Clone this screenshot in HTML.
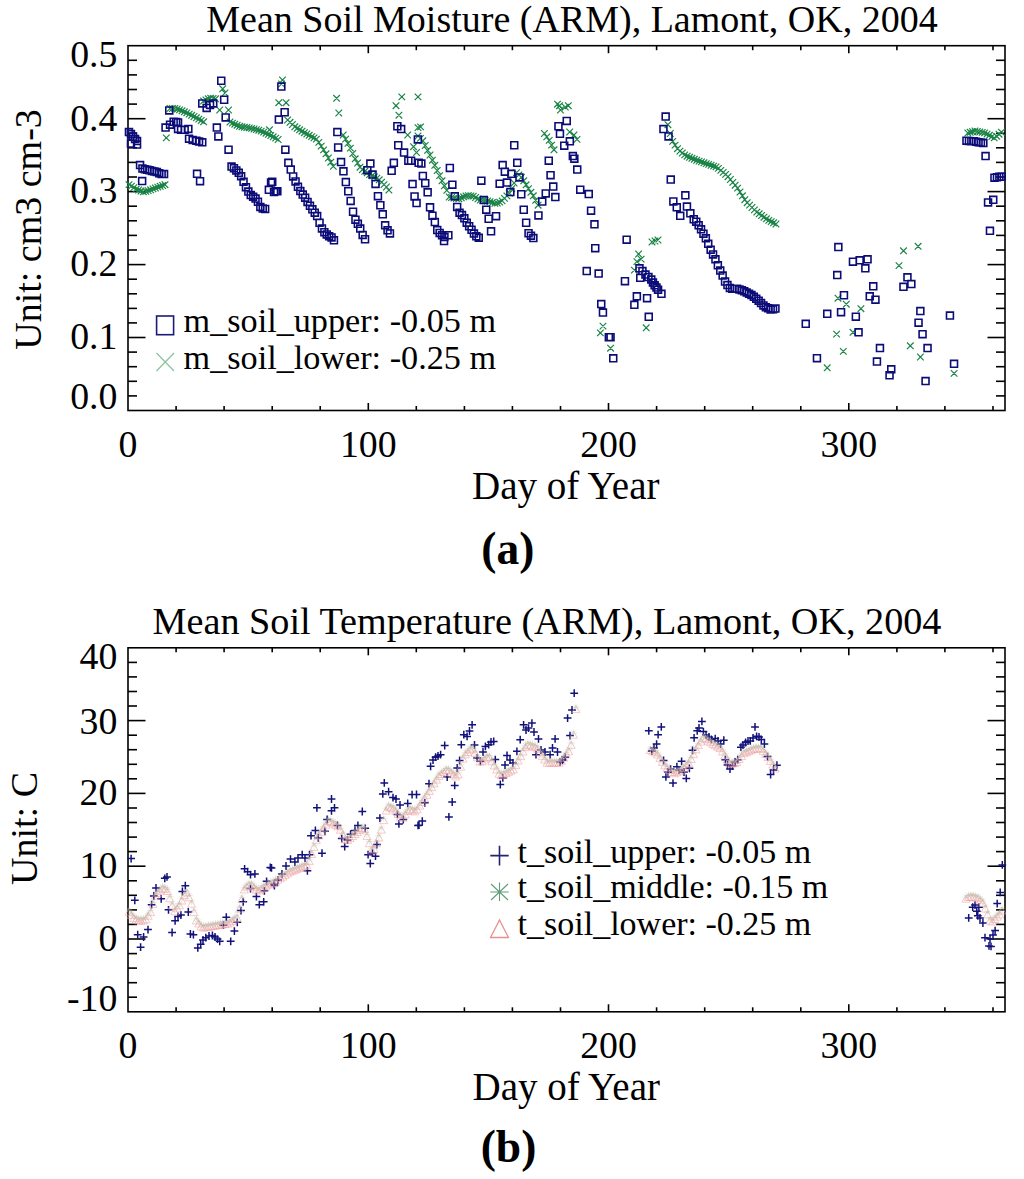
<!DOCTYPE html><html><head><meta charset="utf-8"><style>html,body{margin:0;padding:0;background:#fff}svg{display:block}text{font-family:"Liberation Serif",serif}</style></head><body><svg width="1024" height="1179" viewBox="0 0 1024 1179">
<rect width="1024" height="1179" fill="#fff"/>
<g stroke="#000" stroke-width="1.6" fill="none">
<rect x="128.0" y="45.7" width="877.0" height="364.8" fill="none" stroke="#000" stroke-width="1.6"/>
<line x1="176.1" y1="410.5" x2="176.1" y2="406.0" />
<line x1="176.1" y1="45.7" x2="176.1" y2="50.2" />
<line x1="224.1" y1="410.5" x2="224.1" y2="406.0" />
<line x1="224.1" y1="45.7" x2="224.1" y2="50.2" />
<line x1="272.2" y1="410.5" x2="272.2" y2="406.0" />
<line x1="272.2" y1="45.7" x2="272.2" y2="50.2" />
<line x1="320.2" y1="410.5" x2="320.2" y2="406.0" />
<line x1="320.2" y1="45.7" x2="320.2" y2="50.2" />
<line x1="368.3" y1="410.5" x2="368.3" y2="403.0" />
<line x1="368.3" y1="45.7" x2="368.3" y2="53.2" />
<line x1="416.3" y1="410.5" x2="416.3" y2="406.0" />
<line x1="416.3" y1="45.7" x2="416.3" y2="50.2" />
<line x1="464.4" y1="410.5" x2="464.4" y2="406.0" />
<line x1="464.4" y1="45.7" x2="464.4" y2="50.2" />
<line x1="512.4" y1="410.5" x2="512.4" y2="406.0" />
<line x1="512.4" y1="45.7" x2="512.4" y2="50.2" />
<line x1="560.5" y1="410.5" x2="560.5" y2="406.0" />
<line x1="560.5" y1="45.7" x2="560.5" y2="50.2" />
<line x1="608.5" y1="410.5" x2="608.5" y2="403.0" />
<line x1="608.5" y1="45.7" x2="608.5" y2="53.2" />
<line x1="656.6" y1="410.5" x2="656.6" y2="406.0" />
<line x1="656.6" y1="45.7" x2="656.6" y2="50.2" />
<line x1="704.7" y1="410.5" x2="704.7" y2="406.0" />
<line x1="704.7" y1="45.7" x2="704.7" y2="50.2" />
<line x1="752.7" y1="410.5" x2="752.7" y2="406.0" />
<line x1="752.7" y1="45.7" x2="752.7" y2="50.2" />
<line x1="800.8" y1="410.5" x2="800.8" y2="406.0" />
<line x1="800.8" y1="45.7" x2="800.8" y2="50.2" />
<line x1="848.8" y1="410.5" x2="848.8" y2="403.0" />
<line x1="848.8" y1="45.7" x2="848.8" y2="53.2" />
<line x1="896.9" y1="410.5" x2="896.9" y2="406.0" />
<line x1="896.9" y1="45.7" x2="896.9" y2="50.2" />
<line x1="944.9" y1="410.5" x2="944.9" y2="406.0" />
<line x1="944.9" y1="45.7" x2="944.9" y2="50.2" />
<line x1="993.0" y1="410.5" x2="993.0" y2="406.0" />
<line x1="993.0" y1="45.7" x2="993.0" y2="50.2" />
<line x1="128.0" y1="395.9" x2="137.0" y2="395.9" />
<line x1="1005.0" y1="395.9" x2="996.0" y2="395.9" />
<line x1="128.0" y1="381.3" x2="137.0" y2="381.3" />
<line x1="1005.0" y1="381.3" x2="996.0" y2="381.3" />
<line x1="128.0" y1="366.7" x2="137.0" y2="366.7" />
<line x1="1005.0" y1="366.7" x2="996.0" y2="366.7" />
<line x1="128.0" y1="352.1" x2="137.0" y2="352.1" />
<line x1="1005.0" y1="352.1" x2="996.0" y2="352.1" />
<line x1="128.0" y1="337.5" x2="145.5" y2="337.5" />
<line x1="1005.0" y1="337.5" x2="987.5" y2="337.5" />
<line x1="128.0" y1="322.9" x2="137.0" y2="322.9" />
<line x1="1005.0" y1="322.9" x2="996.0" y2="322.9" />
<line x1="128.0" y1="308.4" x2="137.0" y2="308.4" />
<line x1="1005.0" y1="308.4" x2="996.0" y2="308.4" />
<line x1="128.0" y1="293.8" x2="137.0" y2="293.8" />
<line x1="1005.0" y1="293.8" x2="996.0" y2="293.8" />
<line x1="128.0" y1="279.2" x2="137.0" y2="279.2" />
<line x1="1005.0" y1="279.2" x2="996.0" y2="279.2" />
<line x1="128.0" y1="264.6" x2="145.5" y2="264.6" />
<line x1="1005.0" y1="264.6" x2="987.5" y2="264.6" />
<line x1="128.0" y1="250.0" x2="137.0" y2="250.0" />
<line x1="1005.0" y1="250.0" x2="996.0" y2="250.0" />
<line x1="128.0" y1="235.4" x2="137.0" y2="235.4" />
<line x1="1005.0" y1="235.4" x2="996.0" y2="235.4" />
<line x1="128.0" y1="220.8" x2="137.0" y2="220.8" />
<line x1="1005.0" y1="220.8" x2="996.0" y2="220.8" />
<line x1="128.0" y1="206.2" x2="137.0" y2="206.2" />
<line x1="1005.0" y1="206.2" x2="996.0" y2="206.2" />
<line x1="128.0" y1="191.6" x2="145.5" y2="191.6" />
<line x1="1005.0" y1="191.6" x2="987.5" y2="191.6" />
<line x1="128.0" y1="177.0" x2="137.0" y2="177.0" />
<line x1="1005.0" y1="177.0" x2="996.0" y2="177.0" />
<line x1="128.0" y1="162.4" x2="137.0" y2="162.4" />
<line x1="1005.0" y1="162.4" x2="996.0" y2="162.4" />
<line x1="128.0" y1="147.8" x2="137.0" y2="147.8" />
<line x1="1005.0" y1="147.8" x2="996.0" y2="147.8" />
<line x1="128.0" y1="133.3" x2="137.0" y2="133.3" />
<line x1="1005.0" y1="133.3" x2="996.0" y2="133.3" />
<line x1="128.0" y1="118.7" x2="145.5" y2="118.7" />
<line x1="1005.0" y1="118.7" x2="987.5" y2="118.7" />
<line x1="128.0" y1="104.1" x2="137.0" y2="104.1" />
<line x1="1005.0" y1="104.1" x2="996.0" y2="104.1" />
<line x1="128.0" y1="89.5" x2="137.0" y2="89.5" />
<line x1="1005.0" y1="89.5" x2="996.0" y2="89.5" />
<line x1="128.0" y1="74.9" x2="137.0" y2="74.9" />
<line x1="1005.0" y1="74.9" x2="996.0" y2="74.9" />
<line x1="128.0" y1="60.3" x2="137.0" y2="60.3" />
<line x1="1005.0" y1="60.3" x2="996.0" y2="60.3" />
<rect x="128.0" y="647.8" width="877.0" height="364.0" fill="none" stroke="#000" stroke-width="1.6"/>
<line x1="176.1" y1="1011.8" x2="176.1" y2="1007.3" />
<line x1="176.1" y1="647.8" x2="176.1" y2="652.3" />
<line x1="224.1" y1="1011.8" x2="224.1" y2="1007.3" />
<line x1="224.1" y1="647.8" x2="224.1" y2="652.3" />
<line x1="272.2" y1="1011.8" x2="272.2" y2="1007.3" />
<line x1="272.2" y1="647.8" x2="272.2" y2="652.3" />
<line x1="320.2" y1="1011.8" x2="320.2" y2="1007.3" />
<line x1="320.2" y1="647.8" x2="320.2" y2="652.3" />
<line x1="368.3" y1="1011.8" x2="368.3" y2="1004.3" />
<line x1="368.3" y1="647.8" x2="368.3" y2="655.3" />
<line x1="416.3" y1="1011.8" x2="416.3" y2="1007.3" />
<line x1="416.3" y1="647.8" x2="416.3" y2="652.3" />
<line x1="464.4" y1="1011.8" x2="464.4" y2="1007.3" />
<line x1="464.4" y1="647.8" x2="464.4" y2="652.3" />
<line x1="512.4" y1="1011.8" x2="512.4" y2="1007.3" />
<line x1="512.4" y1="647.8" x2="512.4" y2="652.3" />
<line x1="560.5" y1="1011.8" x2="560.5" y2="1007.3" />
<line x1="560.5" y1="647.8" x2="560.5" y2="652.3" />
<line x1="608.5" y1="1011.8" x2="608.5" y2="1004.3" />
<line x1="608.5" y1="647.8" x2="608.5" y2="655.3" />
<line x1="656.6" y1="1011.8" x2="656.6" y2="1007.3" />
<line x1="656.6" y1="647.8" x2="656.6" y2="652.3" />
<line x1="704.7" y1="1011.8" x2="704.7" y2="1007.3" />
<line x1="704.7" y1="647.8" x2="704.7" y2="652.3" />
<line x1="752.7" y1="1011.8" x2="752.7" y2="1007.3" />
<line x1="752.7" y1="647.8" x2="752.7" y2="652.3" />
<line x1="800.8" y1="1011.8" x2="800.8" y2="1007.3" />
<line x1="800.8" y1="647.8" x2="800.8" y2="652.3" />
<line x1="848.8" y1="1011.8" x2="848.8" y2="1004.3" />
<line x1="848.8" y1="647.8" x2="848.8" y2="655.3" />
<line x1="896.9" y1="1011.8" x2="896.9" y2="1007.3" />
<line x1="896.9" y1="647.8" x2="896.9" y2="652.3" />
<line x1="944.9" y1="1011.8" x2="944.9" y2="1007.3" />
<line x1="944.9" y1="647.8" x2="944.9" y2="652.3" />
<line x1="993.0" y1="1011.8" x2="993.0" y2="1007.3" />
<line x1="993.0" y1="647.8" x2="993.0" y2="652.3" />
<line x1="128.0" y1="997.2" x2="137.0" y2="997.2" />
<line x1="1005.0" y1="997.2" x2="996.0" y2="997.2" />
<line x1="128.0" y1="982.7" x2="137.0" y2="982.7" />
<line x1="1005.0" y1="982.7" x2="996.0" y2="982.7" />
<line x1="128.0" y1="968.1" x2="137.0" y2="968.1" />
<line x1="1005.0" y1="968.1" x2="996.0" y2="968.1" />
<line x1="128.0" y1="953.6" x2="137.0" y2="953.6" />
<line x1="1005.0" y1="953.6" x2="996.0" y2="953.6" />
<line x1="128.0" y1="939.0" x2="145.5" y2="939.0" />
<line x1="1005.0" y1="939.0" x2="987.5" y2="939.0" />
<line x1="128.0" y1="924.4" x2="137.0" y2="924.4" />
<line x1="1005.0" y1="924.4" x2="996.0" y2="924.4" />
<line x1="128.0" y1="909.9" x2="137.0" y2="909.9" />
<line x1="1005.0" y1="909.9" x2="996.0" y2="909.9" />
<line x1="128.0" y1="895.3" x2="137.0" y2="895.3" />
<line x1="1005.0" y1="895.3" x2="996.0" y2="895.3" />
<line x1="128.0" y1="880.8" x2="137.0" y2="880.8" />
<line x1="1005.0" y1="880.8" x2="996.0" y2="880.8" />
<line x1="128.0" y1="866.2" x2="145.5" y2="866.2" />
<line x1="1005.0" y1="866.2" x2="987.5" y2="866.2" />
<line x1="128.0" y1="851.6" x2="137.0" y2="851.6" />
<line x1="1005.0" y1="851.6" x2="996.0" y2="851.6" />
<line x1="128.0" y1="837.1" x2="137.0" y2="837.1" />
<line x1="1005.0" y1="837.1" x2="996.0" y2="837.1" />
<line x1="128.0" y1="822.5" x2="137.0" y2="822.5" />
<line x1="1005.0" y1="822.5" x2="996.0" y2="822.5" />
<line x1="128.0" y1="808.0" x2="137.0" y2="808.0" />
<line x1="1005.0" y1="808.0" x2="996.0" y2="808.0" />
<line x1="128.0" y1="793.4" x2="145.5" y2="793.4" />
<line x1="1005.0" y1="793.4" x2="987.5" y2="793.4" />
<line x1="128.0" y1="778.8" x2="137.0" y2="778.8" />
<line x1="1005.0" y1="778.8" x2="996.0" y2="778.8" />
<line x1="128.0" y1="764.3" x2="137.0" y2="764.3" />
<line x1="1005.0" y1="764.3" x2="996.0" y2="764.3" />
<line x1="128.0" y1="749.7" x2="137.0" y2="749.7" />
<line x1="1005.0" y1="749.7" x2="996.0" y2="749.7" />
<line x1="128.0" y1="735.2" x2="137.0" y2="735.2" />
<line x1="1005.0" y1="735.2" x2="996.0" y2="735.2" />
<line x1="128.0" y1="720.6" x2="145.5" y2="720.6" />
<line x1="1005.0" y1="720.6" x2="987.5" y2="720.6" />
<line x1="128.0" y1="706.0" x2="137.0" y2="706.0" />
<line x1="1005.0" y1="706.0" x2="996.0" y2="706.0" />
<line x1="128.0" y1="691.5" x2="137.0" y2="691.5" />
<line x1="1005.0" y1="691.5" x2="996.0" y2="691.5" />
<line x1="128.0" y1="676.9" x2="137.0" y2="676.9" />
<line x1="1005.0" y1="676.9" x2="996.0" y2="676.9" />
<line x1="128.0" y1="662.4" x2="137.0" y2="662.4" />
<line x1="1005.0" y1="662.4" x2="996.0" y2="662.4" />
</g>
<g font-family="Liberation Serif" fill="#000">
<text x="572" y="31.8" font-size="38" text-anchor="middle">Mean Soil Moisture (ARM), Lamont, OK, 2004</text>
<text x="117.4" y="67.3" font-size="37.8" text-anchor="end">0.5</text>
<text x="117.4" y="131.4" font-size="37.8" text-anchor="end">0.4</text>
<text x="117.4" y="202.6" font-size="37.8" text-anchor="end">0.3</text>
<text x="117.4" y="275.8" font-size="37.8" text-anchor="end">0.2</text>
<text x="117.4" y="348.6" font-size="37.8" text-anchor="end">0.1</text>
<text x="117.4" y="408.8" font-size="37.8" text-anchor="end">0.0</text>
<text x="128.0" y="456.6" font-size="37.8" text-anchor="middle">0</text>
<text x="368.3" y="456.6" font-size="37.8" text-anchor="middle">100</text>
<text x="608.5" y="456.6" font-size="37.8" text-anchor="middle">200</text>
<text x="848.8" y="456.6" font-size="37.8" text-anchor="middle">300</text>
<text x="565.8" y="498.7" font-size="39" text-anchor="middle">Day of Year</text>
<text x="507.8" y="564" font-size="45.5" font-weight="bold" text-anchor="middle">(a)</text>
<text transform="translate(40.7,229.5) rotate(-90)" font-size="38" text-anchor="middle">Unit: cm3 cm-3</text>
<text x="183.6" y="332.2" font-size="34.2">m_soil_upper: -0.05 m</text>
<text x="183.6" y="368.8" font-size="34.2">m_soil_lower: -0.25 m</text>
<text x="547" y="633.75" font-size="38.2" text-anchor="middle">Mean Soil Temperature (ARM), Lamont, OK, 2004</text>
<text x="117.4" y="669.3" font-size="37.8" text-anchor="end">40</text>
<text x="117.4" y="733.5" font-size="37.8" text-anchor="end">30</text>
<text x="117.4" y="805.2" font-size="37.8" text-anchor="end">20</text>
<text x="117.4" y="877.8" font-size="37.8" text-anchor="end">10</text>
<text x="117.4" y="951.3" font-size="37.8" text-anchor="end">0</text>
<text x="117.4" y="1011.3" font-size="37.8" text-anchor="end">-10</text>
<text x="128.0" y="1057.8" font-size="37.8" text-anchor="middle">0</text>
<text x="368.3" y="1057.8" font-size="37.8" text-anchor="middle">100</text>
<text x="608.5" y="1057.8" font-size="37.8" text-anchor="middle">200</text>
<text x="848.8" y="1057.8" font-size="37.8" text-anchor="middle">300</text>
<text x="566.3" y="1100" font-size="39" text-anchor="middle">Day of Year</text>
<text x="508.5" y="1162" font-size="45.5" font-weight="bold" text-anchor="middle">(b)</text>
<text transform="translate(36.5,828.5) rotate(-90)" font-size="38" text-anchor="middle">Unit: C</text>
<text x="517.6" y="862.8" font-size="34">t_soil_upper: -0.05 m</text>
<text x="517.6" y="898.4" font-size="34">t_soil_middle: -0.15 m</text>
<text x="517.6" y="935.3" font-size="34">t_soil_lower: -0.25 m</text>
</g>
<rect x="156.6" y="316" width="17" height="18.7" fill="none" stroke="#1c1c78" stroke-width="1.6"/>
<path d="M156.5,353 L174,371 M174,353 L156.5,371" stroke="#8cc09c" stroke-width="1.2"/>
<path d="M490.3,855.6 H508.7 M499.5,845.7 V865.5" stroke="#23236e" stroke-width="1.6"/>
<path d="M490.3,892 H508.7 M499.5,882.6 V901.1 M491,884 L508,900 M508,884 L491,900" stroke="#5e9e78" stroke-width="1.1"/>
<path d="M499.5,920 L508.5,937.5 L490.5,937.5 Z" fill="none" stroke="#e89090" stroke-width="1.3"/>
<path d="M163.0,134.6l6.6,6.6M169.6,134.6l-6.6,6.6M219.4,85.5l6.6,6.6M226.0,85.5l-6.6,6.6M221.7,89.7l6.6,6.6M228.3,89.7l-6.6,6.6M216.4,106.7l6.6,6.6M223.0,106.7l-6.6,6.6M225.2,106.7l6.6,6.6M231.8,106.7l-6.6,6.6M266.2,126.5l6.6,6.6M272.8,126.5l-6.6,6.6M279.2,76.7l6.6,6.6M285.8,76.7l-6.6,6.6M278.2,80.7l6.6,6.6M284.8,80.7l-6.6,6.6M275.5,99.4l6.6,6.6M282.1,99.4l-6.6,6.6M282.8,99.4l6.6,6.6M289.4,99.4l-6.6,6.6M333.3,95.0l6.6,6.6M339.9,95.0l-6.6,6.6M335.5,109.7l6.6,6.6M342.1,109.7l-6.6,6.6M398.5,93.6l6.6,6.6M405.1,93.6l-6.6,6.6M392.7,102.4l6.6,6.6M399.3,102.4l-6.6,6.6M395.6,111.9l6.6,6.6M402.2,111.9l-6.6,6.6M404.4,131.7l6.6,6.6M411.0,131.7l-6.6,6.6M414.7,93.6l6.6,6.6M421.3,93.6l-6.6,6.6M414.7,124.3l6.6,6.6M421.3,124.3l-6.6,6.6M410.2,143.4l6.6,6.6M416.8,143.4l-6.6,6.6M413.2,149.2l6.6,6.6M419.8,149.2l-6.6,6.6M417.3,123.6l6.6,6.6M423.9,123.6l-6.6,6.6M554.2,100.9l6.6,6.6M560.8,100.9l-6.6,6.6M557.2,106.7l6.6,6.6M563.8,106.7l-6.6,6.6M556.2,102.4l6.6,6.6M562.8,102.4l-6.6,6.6M562.0,103.8l6.6,6.6M568.6,103.8l-6.6,6.6M565.0,102.4l6.6,6.6M571.6,102.4l-6.6,6.6M566.4,128.7l6.6,6.6M573.0,128.7l-6.6,6.6M570.7,131.7l6.6,6.6M577.3,131.7l-6.6,6.6M573.7,136.1l6.6,6.6M580.3,136.1l-6.6,6.6M599.7,322.8l6.6,6.6M606.3,322.8l-6.6,6.6M597.1,329.6l6.6,6.6M603.7,329.6l-6.6,6.6M607.3,344.9l6.6,6.6M613.9,344.9l-6.6,6.6M631.1,266.8l6.6,6.6M637.7,266.8l-6.6,6.6M633.6,258.3l6.6,6.6M640.2,258.3l-6.6,6.6M635.3,250.7l6.6,6.6M641.9,250.7l-6.6,6.6M637.8,255.8l6.6,6.6M644.4,255.8l-6.6,6.6M648.7,238.7l6.6,6.6M655.3,238.7l-6.6,6.6M651.7,237.7l6.6,6.6M658.3,237.7l-6.6,6.6M654.7,236.7l6.6,6.6M661.3,236.7l-6.6,6.6M642.9,324.5l6.6,6.6M649.5,324.5l-6.6,6.6M823.9,364.5l6.6,6.6M830.5,364.5l-6.6,6.6M833.3,330.8l6.6,6.6M839.9,330.8l-6.6,6.6M834.7,294.9l6.6,6.6M841.3,294.9l-6.6,6.6M840.0,348.1l6.6,6.6M846.6,348.1l-6.6,6.6M843.0,300.9l6.6,6.6M849.6,300.9l-6.6,6.6M849.7,329.0l6.6,6.6M856.3,329.0l-6.6,6.6M857.6,305.4l6.6,6.6M864.2,305.4l-6.6,6.6M895.7,262.3l6.6,6.6M902.3,262.3l-6.6,6.6M900.2,247.5l6.6,6.6M906.8,247.5l-6.6,6.6M907.0,342.5l6.6,6.6M913.6,342.5l-6.6,6.6M914.8,243.0l6.6,6.6M921.4,243.0l-6.6,6.6M917.1,353.7l6.6,6.6M923.7,353.7l-6.6,6.6M950.8,370.1l6.6,6.6M957.4,370.1l-6.6,6.6M125.7,181.3l6.6,6.6M132.3,181.3l-6.6,6.6M128.1,182.8l6.6,6.6M134.7,182.8l-6.6,6.6M130.5,184.3l6.6,6.6M137.1,184.3l-6.6,6.6M132.9,185.8l6.6,6.6M139.5,185.8l-6.6,6.6M135.3,186.7l6.6,6.6M141.9,186.7l-6.6,6.6M137.7,187.7l6.6,6.6M144.3,187.7l-6.6,6.6M140.1,188.6l6.6,6.6M146.7,188.6l-6.6,6.6M142.5,188.0l6.6,6.6M149.1,188.0l-6.6,6.6M144.9,187.3l6.6,6.6M151.5,187.3l-6.6,6.6M147.3,186.5l6.6,6.6M153.9,186.5l-6.6,6.6M149.7,185.6l6.6,6.6M156.3,185.6l-6.6,6.6M152.1,184.7l6.6,6.6M158.7,184.7l-6.6,6.6M154.5,183.8l6.6,6.6M161.1,183.8l-6.6,6.6M156.9,183.0l6.6,6.6M163.5,183.0l-6.6,6.6M159.3,182.2l6.6,6.6M165.9,182.2l-6.6,6.6M161.7,181.4l6.6,6.6M168.3,181.4l-6.6,6.6M166.7,105.2l6.6,6.6M173.3,105.2l-6.6,6.6M169.1,105.2l6.6,6.6M175.7,105.2l-6.6,6.6M171.5,105.2l6.6,6.6M178.1,105.2l-6.6,6.6M173.9,105.7l6.6,6.6M180.5,105.7l-6.6,6.6M176.3,106.6l6.6,6.6M182.9,106.6l-6.6,6.6M178.7,107.5l6.6,6.6M185.3,107.5l-6.6,6.6M181.1,108.5l6.6,6.6M187.7,108.5l-6.6,6.6M183.5,109.6l6.6,6.6M190.1,109.6l-6.6,6.6M185.9,110.8l6.6,6.6M192.5,110.8l-6.6,6.6M188.3,112.0l6.6,6.6M194.9,112.0l-6.6,6.6M190.7,113.2l6.6,6.6M197.3,113.2l-6.6,6.6M193.1,114.5l6.6,6.6M199.7,114.5l-6.6,6.6M195.5,115.8l6.6,6.6M202.1,115.8l-6.6,6.6M197.9,117.2l6.6,6.6M204.5,117.2l-6.6,6.6M200.3,118.5l6.6,6.6M206.9,118.5l-6.6,6.6M200.2,97.7l6.6,6.6M206.8,97.7l-6.6,6.6M202.6,96.6l6.6,6.6M209.2,96.6l-6.6,6.6M205.0,95.5l6.6,6.6M211.6,95.5l-6.6,6.6M207.4,94.8l6.6,6.6M214.0,94.8l-6.6,6.6M209.8,95.2l6.6,6.6M216.4,95.2l-6.6,6.6M212.2,95.5l6.6,6.6M218.8,95.5l-6.6,6.6M226.7,118.7l6.6,6.6M233.3,118.7l-6.6,6.6M229.1,119.8l6.6,6.6M235.7,119.8l-6.6,6.6M231.5,120.9l6.6,6.6M238.1,120.9l-6.6,6.6M233.9,121.9l6.6,6.6M240.5,121.9l-6.6,6.6M236.3,123.0l6.6,6.6M242.9,123.0l-6.6,6.6M238.7,123.5l6.6,6.6M245.3,123.5l-6.6,6.6M241.1,123.9l6.6,6.6M247.7,123.9l-6.6,6.6M243.5,124.2l6.6,6.6M250.1,124.2l-6.6,6.6M245.9,124.6l6.6,6.6M252.5,124.6l-6.6,6.6M248.3,125.1l6.6,6.6M254.9,125.1l-6.6,6.6M250.7,125.7l6.6,6.6M257.3,125.7l-6.6,6.6M253.1,126.3l6.6,6.6M259.7,126.3l-6.6,6.6M255.5,126.9l6.6,6.6M262.1,126.9l-6.6,6.6M257.9,127.8l6.6,6.6M264.5,127.8l-6.6,6.6M260.3,128.8l6.6,6.6M266.9,128.8l-6.6,6.6M262.7,129.9l6.6,6.6M269.3,129.9l-6.6,6.6M265.1,131.0l6.6,6.6M271.7,131.0l-6.6,6.6M267.5,132.2l6.6,6.6M274.1,132.2l-6.6,6.6M269.9,133.5l6.6,6.6M276.5,133.5l-6.6,6.6M272.4,134.8l6.6,6.6M279.0,134.8l-6.6,6.6M274.8,136.2l6.6,6.6M281.4,136.2l-6.6,6.6M284.3,116.7l6.6,6.6M290.9,116.7l-6.6,6.6M286.7,119.0l6.6,6.6M293.3,119.0l-6.6,6.6M289.1,121.2l6.6,6.6M295.7,121.2l-6.6,6.6M291.5,123.5l6.6,6.6M298.1,123.5l-6.6,6.6M293.9,125.0l6.6,6.6M300.5,125.0l-6.6,6.6M296.3,126.5l6.6,6.6M302.9,126.5l-6.6,6.6M298.7,127.9l6.6,6.6M305.3,127.9l-6.6,6.6M301.1,129.4l6.6,6.6M307.7,129.4l-6.6,6.6M303.5,130.7l6.6,6.6M310.1,130.7l-6.6,6.6M305.9,132.0l6.6,6.6M312.5,132.0l-6.6,6.6M308.3,133.3l6.6,6.6M314.9,133.3l-6.6,6.6M310.7,134.6l6.6,6.6M317.3,134.6l-6.6,6.6M313.1,135.8l6.6,6.6M319.7,135.8l-6.6,6.6M315.5,139.1l6.6,6.6M322.1,139.1l-6.6,6.6M317.9,142.8l6.6,6.6M324.5,142.8l-6.6,6.6M320.3,146.6l6.6,6.6M326.9,146.6l-6.6,6.6M322.7,150.5l6.6,6.6M329.3,150.5l-6.6,6.6M325.1,154.7l6.6,6.6M331.7,154.7l-6.6,6.6M327.5,158.9l6.6,6.6M334.1,158.9l-6.6,6.6M330.0,163.1l6.6,6.6M336.6,163.1l-6.6,6.6M339.9,131.7l6.6,6.6M346.5,131.7l-6.6,6.6M342.3,135.8l6.6,6.6M348.9,135.8l-6.6,6.6M344.7,140.0l6.6,6.6M351.3,140.0l-6.6,6.6M347.1,144.8l6.6,6.6M353.7,144.8l-6.6,6.6M349.5,150.2l6.6,6.6M356.1,150.2l-6.6,6.6M351.9,155.5l6.6,6.6M358.5,155.5l-6.6,6.6M354.3,159.7l6.6,6.6M360.9,159.7l-6.6,6.6M356.7,163.9l6.6,6.6M363.3,163.9l-6.6,6.6M359.1,166.4l6.6,6.6M365.7,166.4l-6.6,6.6M361.5,168.0l6.6,6.6M368.1,168.0l-6.6,6.6M363.9,169.6l6.6,6.6M370.5,169.6l-6.6,6.6M366.3,171.2l6.6,6.6M372.9,171.2l-6.6,6.6M368.7,172.4l6.6,6.6M375.3,172.4l-6.6,6.6M371.1,173.7l6.6,6.6M377.7,173.7l-6.6,6.6M373.5,174.9l6.6,6.6M380.1,174.9l-6.6,6.6M375.9,176.5l6.6,6.6M382.5,176.5l-6.6,6.6M378.3,178.9l6.6,6.6M384.9,178.9l-6.6,6.6M380.7,181.3l6.6,6.6M387.3,181.3l-6.6,6.6M383.1,183.7l6.6,6.6M389.7,183.7l-6.6,6.6M385.6,186.8l6.6,6.6M392.2,186.8l-6.6,6.6M414.7,132.7l6.6,6.6M421.3,132.7l-6.6,6.6M417.1,135.1l6.6,6.6M423.7,135.1l-6.6,6.6M419.5,137.5l6.6,6.6M426.1,137.5l-6.6,6.6M421.9,142.2l6.6,6.6M428.5,142.2l-6.6,6.6M424.3,147.0l6.6,6.6M430.9,147.0l-6.6,6.6M426.7,151.7l6.6,6.6M433.3,151.7l-6.6,6.6M429.1,156.9l6.6,6.6M435.7,156.9l-6.6,6.6M431.5,162.0l6.6,6.6M438.1,162.0l-6.6,6.6M433.9,167.2l6.6,6.6M440.5,167.2l-6.6,6.6M436.3,172.3l6.6,6.6M442.9,172.3l-6.6,6.6M438.7,177.5l6.6,6.6M445.3,177.5l-6.6,6.6M441.1,182.5l6.6,6.6M447.7,182.5l-6.6,6.6M443.5,187.1l6.6,6.6M450.1,187.1l-6.6,6.6M445.9,193.7l6.6,6.6M452.5,193.7l-6.6,6.6M448.3,194.2l6.6,6.6M454.9,194.2l-6.6,6.6M450.7,194.8l6.6,6.6M457.3,194.8l-6.6,6.6M453.1,195.3l6.6,6.6M459.7,195.3l-6.6,6.6M455.5,195.4l6.6,6.6M462.1,195.4l-6.6,6.6M457.9,194.4l6.6,6.6M464.5,194.4l-6.6,6.6M460.3,193.5l6.6,6.6M466.9,193.5l-6.6,6.6M462.7,192.6l6.6,6.6M469.3,192.6l-6.6,6.6M465.1,192.4l6.6,6.6M471.7,192.4l-6.6,6.6M467.5,192.6l6.6,6.6M474.1,192.6l-6.6,6.6M469.9,192.8l6.6,6.6M476.5,192.8l-6.6,6.6M472.3,194.2l6.6,6.6M478.9,194.2l-6.6,6.6M474.7,195.6l6.6,6.6M481.3,195.6l-6.6,6.6M477.1,196.8l6.6,6.6M483.7,196.8l-6.6,6.6M479.5,197.1l6.6,6.6M486.1,197.1l-6.6,6.6M481.9,197.4l6.6,6.6M488.5,197.4l-6.6,6.6M484.3,197.7l6.6,6.6M490.9,197.7l-6.6,6.6M486.7,198.4l6.6,6.6M493.3,198.4l-6.6,6.6M489.1,199.2l6.6,6.6M495.7,199.2l-6.6,6.6M491.6,200.0l6.6,6.6M498.2,200.0l-6.6,6.6M494.0,199.8l6.6,6.6M500.6,199.8l-6.6,6.6M496.4,198.8l6.6,6.6M503.0,198.8l-6.6,6.6M498.8,197.6l6.6,6.6M505.4,197.6l-6.6,6.6M501.2,195.1l6.6,6.6M507.8,195.1l-6.6,6.6M503.6,192.6l6.6,6.6M510.2,192.6l-6.6,6.6M506.0,190.0l6.6,6.6M512.6,190.0l-6.6,6.6M508.4,185.4l6.6,6.6M515.0,185.4l-6.6,6.6M510.8,179.7l6.6,6.6M517.4,179.7l-6.6,6.6M513.2,169.3l6.6,6.6M519.8,169.3l-6.6,6.6M515.6,171.6l6.6,6.6M522.2,171.6l-6.6,6.6M518.0,174.0l6.6,6.6M524.6,174.0l-6.6,6.6M520.4,177.5l6.6,6.6M527.0,177.5l-6.6,6.6M522.8,181.5l6.6,6.6M529.4,181.5l-6.6,6.6M525.2,185.4l6.6,6.6M531.8,185.4l-6.6,6.6M527.6,189.0l6.6,6.6M534.2,189.0l-6.6,6.6M530.0,192.5l6.6,6.6M536.6,192.5l-6.6,6.6M532.4,197.0l6.6,6.6M539.0,197.0l-6.6,6.6M534.8,201.9l6.6,6.6M541.4,201.9l-6.6,6.6M541.1,130.2l6.6,6.6M547.7,130.2l-6.6,6.6M543.5,133.6l6.6,6.6M550.1,133.6l-6.6,6.6M545.9,137.1l6.6,6.6M552.5,137.1l-6.6,6.6M548.3,141.8l6.6,6.6M554.9,141.8l-6.6,6.6M550.7,146.5l6.6,6.6M557.3,146.5l-6.6,6.6M664.6,121.4l6.6,6.6M671.2,121.4l-6.6,6.6M667.0,130.2l6.6,6.6M673.6,130.2l-6.6,6.6M669.4,138.1l6.6,6.6M676.0,138.1l-6.6,6.6M671.8,141.8l6.6,6.6M678.4,141.8l-6.6,6.6M674.2,145.4l6.6,6.6M680.8,145.4l-6.6,6.6M676.6,147.8l6.6,6.6M683.2,147.8l-6.6,6.6M679.0,149.7l6.6,6.6M685.6,149.7l-6.6,6.6M681.4,151.6l6.6,6.6M688.0,151.6l-6.6,6.6M683.8,152.9l6.6,6.6M690.4,152.9l-6.6,6.6M686.2,154.0l6.6,6.6M692.8,154.0l-6.6,6.6M688.6,155.0l6.6,6.6M695.2,155.0l-6.6,6.6M691.0,156.0l6.6,6.6M697.6,156.0l-6.6,6.6M693.4,157.0l6.6,6.6M700.0,157.0l-6.6,6.6M695.8,157.8l6.6,6.6M702.4,157.8l-6.6,6.6M698.2,158.6l6.6,6.6M704.8,158.6l-6.6,6.6M700.6,159.5l6.6,6.6M707.2,159.5l-6.6,6.6M703.0,160.3l6.6,6.6M709.6,160.3l-6.6,6.6M705.4,161.1l6.6,6.6M712.0,161.1l-6.6,6.6M707.8,162.0l6.6,6.6M714.4,162.0l-6.6,6.6M710.3,162.8l6.6,6.6M716.9,162.8l-6.6,6.6M712.7,163.6l6.6,6.6M719.3,163.6l-6.6,6.6M715.1,165.1l6.6,6.6M721.7,165.1l-6.6,6.6M717.5,167.1l6.6,6.6M724.1,167.1l-6.6,6.6M719.9,169.1l6.6,6.6M726.5,169.1l-6.6,6.6M722.3,171.1l6.6,6.6M728.9,171.1l-6.6,6.6M724.7,173.4l6.6,6.6M731.3,173.4l-6.6,6.6M727.1,176.2l6.6,6.6M733.7,176.2l-6.6,6.6M729.5,179.1l6.6,6.6M736.1,179.1l-6.6,6.6M731.9,181.9l6.6,6.6M738.5,181.9l-6.6,6.6M734.3,184.8l6.6,6.6M740.9,184.8l-6.6,6.6M736.7,188.7l6.6,6.6M743.3,188.7l-6.6,6.6M739.1,192.5l6.6,6.6M745.7,192.5l-6.6,6.6M741.5,196.4l6.6,6.6M748.1,196.4l-6.6,6.6M743.9,199.4l6.6,6.6M750.5,199.4l-6.6,6.6M746.3,201.8l6.6,6.6M752.9,201.8l-6.6,6.6M748.7,204.2l6.6,6.6M755.3,204.2l-6.6,6.6M751.1,206.6l6.6,6.6M757.7,206.6l-6.6,6.6M753.5,208.8l6.6,6.6M760.1,208.8l-6.6,6.6M755.9,210.5l6.6,6.6M762.5,210.5l-6.6,6.6M758.3,212.2l6.6,6.6M764.9,212.2l-6.6,6.6M760.7,213.9l6.6,6.6M767.3,213.9l-6.6,6.6M763.1,215.5l6.6,6.6M769.7,215.5l-6.6,6.6M765.5,217.1l6.6,6.6M772.1,217.1l-6.6,6.6M767.9,218.3l6.6,6.6M774.5,218.3l-6.6,6.6M770.3,219.5l6.6,6.6M776.9,219.5l-6.6,6.6M772.7,220.7l6.6,6.6M779.3,220.7l-6.6,6.6M964.5,129.7l6.6,6.6M971.1,129.7l-6.6,6.6M966.9,129.0l6.6,6.6M973.5,129.0l-6.6,6.6M969.3,128.4l6.6,6.6M975.9,128.4l-6.6,6.6M971.7,127.7l6.6,6.6M978.3,127.7l-6.6,6.6M974.1,128.2l6.6,6.6M980.7,128.2l-6.6,6.6M976.5,128.7l6.6,6.6M983.1,128.7l-6.6,6.6M978.9,129.1l6.6,6.6M985.5,129.1l-6.6,6.6M981.3,129.6l6.6,6.6M987.9,129.6l-6.6,6.6M983.7,130.8l6.6,6.6M990.3,130.8l-6.6,6.6M986.1,132.0l6.6,6.6M992.7,132.0l-6.6,6.6M988.5,133.3l6.6,6.6M995.1,133.3l-6.6,6.6M990.9,134.6l6.6,6.6M997.5,134.6l-6.6,6.6M993.3,132.9l6.6,6.6M999.9,132.9l-6.6,6.6M995.7,130.9l6.6,6.6M1002.3,130.9l-6.6,6.6M998.1,128.9l6.6,6.6M1004.7,128.9l-6.6,6.6" stroke="#1a8446" stroke-width="1.2" fill="none"/>
<path d="M125.5,128.6h6.9v6.9h-6.9zM127.5,130.6h6.9v6.9h-6.9zM129.6,133.1h6.9v6.9h-6.9zM131.6,135.6h6.9v6.9h-6.9zM133.6,137.6h6.9v6.9h-6.9zM127.5,140.1h6.9v6.9h-6.9zM133.6,141.1h6.9v6.9h-6.9zM138.7,177.6h6.9v6.9h-6.9zM162.1,124.1h6.9v6.9h-6.9zM165.8,107.0h6.9v6.9h-6.9zM166.6,121.2h6.9v6.9h-6.9zM170.2,118.3h6.9v6.9h-6.9zM172.6,118.5h6.9v6.9h-6.9zM174.6,119.0h6.9v6.9h-6.9zM174.6,125.5h6.9v6.9h-6.9zM177.6,126.4h6.9v6.9h-6.9zM181.2,126.4h6.9v6.9h-6.9zM184.9,125.5h6.9v6.9h-6.9zM185.6,135.2h6.9v6.9h-6.9zM189.2,136.6h6.9v6.9h-6.9zM192.9,137.4h6.9v6.9h-6.9zM195.6,138.1h6.9v6.9h-6.9zM198.8,138.9h6.9v6.9h-6.9zM193.6,170.4h6.9v6.9h-6.9zM196.6,177.7h6.9v6.9h-6.9zM198.8,100.0h6.9v6.9h-6.9zM203.2,104.5h6.9v6.9h-6.9zM206.6,101.5h6.9v6.9h-6.9zM209.8,100.0h6.9v6.9h-6.9zM217.8,77.3h6.9v6.9h-6.9zM220.7,96.3h6.9v6.9h-6.9zM222.2,114.0h6.9v6.9h-6.9zM213.4,124.1h6.9v6.9h-6.9zM214.9,133.0h6.9v6.9h-6.9zM225.1,146.2h6.9v6.9h-6.9zM267.6,179.1h6.9v6.9h-6.9zM265.4,186.4h6.9v6.9h-6.9zM270.6,188.6h6.9v6.9h-6.9zM268.8,178.4h6.9v6.9h-6.9zM272.4,187.9h6.9v6.9h-6.9zM273.9,187.8h6.9v6.9h-6.9zM277.9,83.1h6.9v6.9h-6.9zM281.2,108.8h6.9v6.9h-6.9zM275.4,116.1h6.9v6.9h-6.9zM281.9,146.2h6.9v6.9h-6.9zM333.9,128.6h6.9v6.9h-6.9zM334.7,144.0h6.9v6.9h-6.9zM366.9,160.1h6.9v6.9h-6.9zM363.9,166.7h6.9v6.9h-6.9zM369.1,171.1h6.9v6.9h-6.9zM390.4,159.4h6.9v6.9h-6.9zM388.2,167.4h6.9v6.9h-6.9zM393.9,122.8h6.9v6.9h-6.9zM397.7,125.6h6.9v6.9h-6.9zM394.8,141.8h6.9v6.9h-6.9zM400.6,149.1h6.9v6.9h-6.9zM404.9,157.2h6.9v6.9h-6.9zM407.6,157.2h6.9v6.9h-6.9zM414.4,136.0h6.9v6.9h-6.9zM415.2,159.4h6.9v6.9h-6.9zM409.1,180.6h6.9v6.9h-6.9zM411.1,193.0h6.9v6.9h-6.9zM413.1,199.6h6.9v6.9h-6.9zM417.9,160.1h6.9v6.9h-6.9zM444.9,231.8h6.9v6.9h-6.9zM440.6,237.6h6.9v6.9h-6.9zM492.6,212.7h6.9v6.9h-6.9zM499.2,161.6h6.9v6.9h-6.9zM501.4,168.2h6.9v6.9h-6.9zM507.9,170.4h6.9v6.9h-6.9zM513.8,159.4h6.9v6.9h-6.9zM516.0,174.0h6.9v6.9h-6.9zM496.2,180.2h6.9v6.9h-6.9zM503.6,179.1h6.9v6.9h-6.9zM506.9,188.6h6.9v6.9h-6.9zM510.8,141.8h6.9v6.9h-6.9zM535.0,212.0h6.9v6.9h-6.9zM538.8,198.1h6.9v6.9h-6.9zM542.3,190.0h6.9v6.9h-6.9zM545.3,157.2h6.9v6.9h-6.9zM547.1,171.7h6.9v6.9h-6.9zM549.8,183.1h6.9v6.9h-6.9zM551.9,193.6h6.9v6.9h-6.9zM555.0,122.8h6.9v6.9h-6.9zM556.5,130.4h6.9v6.9h-6.9zM563.3,117.5h6.9v6.9h-6.9zM566.4,137.9h6.9v6.9h-6.9zM560.8,142.2h6.9v6.9h-6.9zM569.4,152.6h6.9v6.9h-6.9zM570.9,155.2h6.9v6.9h-6.9zM573.8,166.1h6.9v6.9h-6.9zM576.8,186.2h6.9v6.9h-6.9zM585.3,190.6h6.9v6.9h-6.9zM587.6,207.2h6.9v6.9h-6.9zM591.0,220.9h6.9v6.9h-6.9zM591.8,244.7h6.9v6.9h-6.9zM583.3,267.6h6.9v6.9h-6.9zM595.2,270.1h6.9v6.9h-6.9zM597.8,300.6h6.9v6.9h-6.9zM599.5,309.1h6.9v6.9h-6.9zM605.4,333.7h6.9v6.9h-6.9zM607.1,333.7h6.9v6.9h-6.9zM609.8,354.9h6.9v6.9h-6.9zM623.2,236.2h6.9v6.9h-6.9zM621.5,277.7h6.9v6.9h-6.9zM633.4,292.9h6.9v6.9h-6.9zM630.9,301.4h6.9v6.9h-6.9zM643.6,294.7h6.9v6.9h-6.9zM645.3,313.4h6.9v6.9h-6.9zM636.0,264.9h6.9v6.9h-6.9zM636.8,274.4h6.9v6.9h-6.9zM639.0,267.6h6.9v6.9h-6.9zM642.0,271.1h6.9v6.9h-6.9zM645.0,273.6h6.9v6.9h-6.9zM647.8,276.1h6.9v6.9h-6.9zM649.5,279.1h6.9v6.9h-6.9zM651.2,281.9h6.9v6.9h-6.9zM653.0,284.1h6.9v6.9h-6.9zM654.6,286.2h6.9v6.9h-6.9zM658.0,290.4h6.9v6.9h-6.9zM662.2,113.1h6.9v6.9h-6.9zM660.0,125.6h6.9v6.9h-6.9zM665.1,133.0h6.9v6.9h-6.9zM667.3,176.1h6.9v6.9h-6.9zM681.9,191.9h6.9v6.9h-6.9zM683.5,203.1h6.9v6.9h-6.9zM669.9,198.0h6.9v6.9h-6.9zM673.3,203.9h6.9v6.9h-6.9zM676.8,212.4h6.9v6.9h-6.9zM686.9,209.9h6.9v6.9h-6.9zM802.3,320.4h6.9v6.9h-6.9zM813.5,354.7h6.9v6.9h-6.9zM823.8,310.4h6.9v6.9h-6.9zM833.8,271.6h6.9v6.9h-6.9zM834.9,243.6h6.9v6.9h-6.9zM837.6,308.7h6.9v6.9h-6.9zM840.5,291.8h6.9v6.9h-6.9zM849.5,258.2h6.9v6.9h-6.9zM852.4,313.2h6.9v6.9h-6.9zM855.1,328.9h6.9v6.9h-6.9zM856.2,256.9h6.9v6.9h-6.9zM861.9,264.9h6.9v6.9h-6.9zM864.1,255.9h6.9v6.9h-6.9zM866.3,292.9h6.9v6.9h-6.9zM869.8,282.9h6.9v6.9h-6.9zM872.0,296.2h6.9v6.9h-6.9zM873.5,358.1h6.9v6.9h-6.9zM876.5,344.6h6.9v6.9h-6.9zM886.1,371.9h6.9v6.9h-6.9zM887.8,365.9h6.9v6.9h-6.9zM900.0,283.4h6.9v6.9h-6.9zM904.0,273.9h6.9v6.9h-6.9zM907.9,280.6h6.9v6.9h-6.9zM915.1,319.2h6.9v6.9h-6.9zM916.9,307.6h6.9v6.9h-6.9zM919.1,330.7h6.9v6.9h-6.9zM922.1,377.6h6.9v6.9h-6.9zM924.1,344.6h6.9v6.9h-6.9zM946.5,312.1h6.9v6.9h-6.9zM950.6,360.4h6.9v6.9h-6.9zM986.5,227.4h6.9v6.9h-6.9zM982.1,152.6h6.9v6.9h-6.9zM984.6,199.0h6.9v6.9h-6.9zM989.8,196.4h6.9v6.9h-6.9zM136.6,161.6h6.9v6.9h-6.9zM139.0,165.0h6.9v6.9h-6.9zM141.4,165.9h6.9v6.9h-6.9zM143.8,166.4h6.9v6.9h-6.9zM146.2,166.9h6.9v6.9h-6.9zM148.6,167.5h6.9v6.9h-6.9zM151.0,168.0h6.9v6.9h-6.9zM153.4,168.5h6.9v6.9h-6.9zM155.8,169.7h6.9v6.9h-6.9zM158.2,170.6h6.9v6.9h-6.9zM160.6,170.6h6.9v6.9h-6.9zM228.1,163.1h6.9v6.9h-6.9zM230.5,164.8h6.9v6.9h-6.9zM232.9,167.0h6.9v6.9h-6.9zM235.3,169.3h6.9v6.9h-6.9zM237.7,172.9h6.9v6.9h-6.9zM240.1,178.4h6.9v6.9h-6.9zM242.5,183.7h6.9v6.9h-6.9zM244.9,188.1h6.9v6.9h-6.9zM247.3,191.6h6.9v6.9h-6.9zM249.7,193.2h6.9v6.9h-6.9zM252.1,195.1h6.9v6.9h-6.9zM254.5,198.3h6.9v6.9h-6.9zM256.9,203.5h6.9v6.9h-6.9zM259.3,205.0h6.9v6.9h-6.9zM261.7,205.5h6.9v6.9h-6.9zM284.9,159.4h6.9v6.9h-6.9zM287.3,166.1h6.9v6.9h-6.9zM289.7,173.0h6.9v6.9h-6.9zM292.1,178.0h6.9v6.9h-6.9zM294.5,183.3h6.9v6.9h-6.9zM296.9,187.6h6.9v6.9h-6.9zM299.3,191.1h6.9v6.9h-6.9zM301.7,194.2h6.9v6.9h-6.9zM304.1,198.5h6.9v6.9h-6.9zM306.5,202.3h6.9v6.9h-6.9zM308.9,205.9h6.9v6.9h-6.9zM311.3,209.2h6.9v6.9h-6.9zM313.7,212.6h6.9v6.9h-6.9zM316.1,219.3h6.9v6.9h-6.9zM318.5,225.0h6.9v6.9h-6.9zM320.9,228.7h6.9v6.9h-6.9zM323.3,231.0h6.9v6.9h-6.9zM325.7,232.7h6.9v6.9h-6.9zM328.1,234.0h6.9v6.9h-6.9zM330.5,236.9h6.9v6.9h-6.9zM337.6,158.6h6.9v6.9h-6.9zM340.0,167.9h6.9v6.9h-6.9zM342.4,178.6h6.9v6.9h-6.9zM344.8,187.8h6.9v6.9h-6.9zM347.2,197.5h6.9v6.9h-6.9zM349.6,208.3h6.9v6.9h-6.9zM352.0,216.2h6.9v6.9h-6.9zM354.4,220.3h6.9v6.9h-6.9zM356.8,225.1h6.9v6.9h-6.9zM359.2,231.5h6.9v6.9h-6.9zM361.6,235.8h6.9v6.9h-6.9zM372.1,180.5h6.9v6.9h-6.9zM374.5,192.7h6.9v6.9h-6.9zM376.9,201.8h6.9v6.9h-6.9zM379.3,210.9h6.9v6.9h-6.9zM381.7,221.9h6.9v6.9h-6.9zM384.1,226.9h6.9v6.9h-6.9zM386.5,230.0h6.9v6.9h-6.9zM419.4,172.5h6.9v6.9h-6.9zM421.8,179.7h6.9v6.9h-6.9zM424.2,188.9h6.9v6.9h-6.9zM426.6,203.9h6.9v6.9h-6.9zM429.0,212.2h6.9v6.9h-6.9zM431.4,218.6h6.9v6.9h-6.9zM433.8,226.6h6.9v6.9h-6.9zM436.2,229.5h6.9v6.9h-6.9zM438.6,231.7h6.9v6.9h-6.9zM441.0,233.6h6.9v6.9h-6.9zM446.4,164.5h6.9v6.9h-6.9zM448.9,181.2h6.9v6.9h-6.9zM451.3,192.9h6.9v6.9h-6.9zM453.7,203.5h6.9v6.9h-6.9zM456.1,209.2h6.9v6.9h-6.9zM458.5,211.6h6.9v6.9h-6.9zM460.9,214.9h6.9v6.9h-6.9zM463.3,219.2h6.9v6.9h-6.9zM465.7,222.8h6.9v6.9h-6.9zM468.1,226.3h6.9v6.9h-6.9zM470.5,230.1h6.9v6.9h-6.9zM472.9,232.9h6.9v6.9h-6.9zM475.3,234.4h6.9v6.9h-6.9zM477.9,177.2h6.9v6.9h-6.9zM480.4,196.6h6.9v6.9h-6.9zM482.8,206.2h6.9v6.9h-6.9zM485.2,215.3h6.9v6.9h-6.9zM487.6,227.9h6.9v6.9h-6.9zM517.8,190.8h6.9v6.9h-6.9zM520.3,206.3h6.9v6.9h-6.9zM522.7,219.3h6.9v6.9h-6.9zM525.1,229.8h6.9v6.9h-6.9zM527.5,232.2h6.9v6.9h-6.9zM529.9,234.6h6.9v6.9h-6.9zM690.3,215.8h6.9v6.9h-6.9zM692.8,218.2h6.9v6.9h-6.9zM695.2,221.8h6.9v6.9h-6.9zM697.6,225.9h6.9v6.9h-6.9zM700.0,230.2h6.9v6.9h-6.9zM702.4,234.9h6.9v6.9h-6.9zM704.8,240.4h6.9v6.9h-6.9zM707.2,246.2h6.9v6.9h-6.9zM709.6,251.0h6.9v6.9h-6.9zM712.0,255.9h6.9v6.9h-6.9zM714.4,261.9h6.9v6.9h-6.9zM716.8,267.1h6.9v6.9h-6.9zM719.2,272.1h6.9v6.9h-6.9zM721.6,278.1h6.9v6.9h-6.9zM724.0,281.6h6.9v6.9h-6.9zM726.4,284.5h6.9v6.9h-6.9zM728.8,285.2h6.9v6.9h-6.9zM731.2,285.2h6.9v6.9h-6.9zM733.6,285.2h6.9v6.9h-6.9zM736.0,286.0h6.9v6.9h-6.9zM738.4,286.9h6.9v6.9h-6.9zM740.8,287.8h6.9v6.9h-6.9zM743.2,289.0h6.9v6.9h-6.9zM745.6,290.2h6.9v6.9h-6.9zM748.0,291.6h6.9v6.9h-6.9zM750.4,293.4h6.9v6.9h-6.9zM752.8,295.2h6.9v6.9h-6.9zM755.2,297.2h6.9v6.9h-6.9zM757.6,299.6h6.9v6.9h-6.9zM760.0,302.0h6.9v6.9h-6.9zM762.4,303.7h6.9v6.9h-6.9zM764.8,304.9h6.9v6.9h-6.9zM767.2,306.1h6.9v6.9h-6.9zM769.6,305.9h6.9v6.9h-6.9zM772.0,305.1h6.9v6.9h-6.9zM963.0,137.2h6.9v6.9h-6.9zM965.5,137.5h6.9v6.9h-6.9zM967.9,137.7h6.9v6.9h-6.9zM970.3,137.9h6.9v6.9h-6.9zM972.7,138.3h6.9v6.9h-6.9zM975.1,138.7h6.9v6.9h-6.9zM977.5,139.1h6.9v6.9h-6.9zM979.9,139.6h6.9v6.9h-6.9zM991.0,174.2h6.9v6.9h-6.9zM993.5,173.8h6.9v6.9h-6.9zM995.9,173.4h6.9v6.9h-6.9zM998.3,173.1h6.9v6.9h-6.9z" stroke="#0c0c78" stroke-width="1.6" fill="none"/>
<path d="M127.2,858.6h7.8M131.1,854.7v7.8M130.9,900.3h7.8M134.8,896.4v7.8M133.8,934.7h7.8M137.7,930.8v7.8M136.7,947.2h7.8M140.6,943.3v7.8M139.7,937.0h7.8M143.6,933.1v7.8M144.1,929.6h7.8M148.0,925.7v7.8M147.7,904.7h7.8M151.6,900.8v7.8M149.9,895.9h7.8M153.8,892.0v7.8M152.1,887.9h7.8M156.0,884.0v7.8M157.3,898.8h7.8M161.2,894.9v7.8M160.9,878.3h7.8M164.8,874.4v7.8M163.1,876.9h7.8M167.0,873.0v7.8M164.6,909.8h7.8M168.5,905.9v7.8M168.2,932.5h7.8M172.1,928.6v7.8M171.2,920.8h7.8M175.1,916.9v7.8M174.1,916.4h7.8M178.0,912.5v7.8M177.0,915.0h7.8M180.9,911.1v7.8M178.5,891.5h7.8M182.4,887.6v7.8M181.4,885.7h7.8M185.3,881.8v7.8M184.4,912.0h7.8M188.3,908.1v7.8M186.5,934.0h7.8M190.4,930.1v7.8M189.5,934.7h7.8M193.4,930.8v7.8M193.9,947.9h7.8M197.8,944.0v7.8M196.8,944.3h7.8M200.7,940.4v7.8M199.1,940.0h7.8M203.0,936.1v7.8M201.9,937.7h7.8M205.8,933.8v7.8M205.1,936.0h7.8M209.0,932.1v7.8M208.5,935.5h7.8M212.4,931.6v7.8M211.1,937.0h7.8M215.0,933.1v7.8M213.6,939.1h7.8M217.5,935.2v7.8M215.8,941.3h7.8M219.7,937.4v7.8M219.5,925.2h7.8M223.4,921.3v7.8M222.4,917.2h7.8M226.3,913.3v7.8M226.8,941.3h7.8M230.7,937.4v7.8M230.5,931.1h7.8M234.4,927.2v7.8M233.4,922.3h7.8M237.3,918.4v7.8M237.1,910.6h7.8M241.0,906.7v7.8M239.3,901.8h7.8M243.2,897.9v7.8M240.7,868.8h7.8M244.6,864.9v7.8M243.7,871.7h7.8M247.6,867.8v7.8M246.6,874.7h7.8M250.5,870.8v7.8M251.0,873.9h7.8M254.9,870.0v7.8M246.6,888.6h7.8M250.5,884.7v7.8M252.5,896.6h7.8M256.4,892.7v7.8M255.4,904.7h7.8M259.3,900.8v7.8M259.8,901.8h7.8M263.7,897.9v7.8M260.5,890.8h7.8M264.4,886.9v7.8M262.7,881.3h7.8M266.6,877.4v7.8M266.4,867.4h7.8M270.3,863.5v7.8M270.1,884.2h7.8M274.0,880.3v7.8M267.6,867.9h7.8M271.5,864.0v7.8M270.5,885.5h7.8M274.4,881.6v7.8M274.1,880.0h7.8M278.0,876.1v7.8M278.1,874.0h7.8M282.0,870.1v7.8M282.1,866.0h7.8M286.0,862.1v7.8M286.6,859.1h7.8M290.5,855.2v7.8M291.0,862.0h7.8M294.9,858.1v7.8M294.1,858.0h7.8M298.0,854.1v7.8M298.3,854.7h7.8M302.2,850.8v7.8M301.1,858.0h7.8M305.0,854.1v7.8M305.6,854.7h7.8M309.5,850.8v7.8M303.5,870.8h7.8M307.4,866.9v7.8M307.1,835.7h7.8M311.0,831.8v7.8M311.5,830.5h7.8M315.4,826.6v7.8M314.4,837.9h7.8M318.3,834.0v7.8M321.0,831.3h7.8M324.9,827.4v7.8M313.0,807.8h7.8M316.9,803.9v7.8M323.2,819.5h7.8M327.1,815.6v7.8M327.6,810.8h7.8M331.5,806.9v7.8M327.6,799.0h7.8M331.5,795.1v7.8M330.6,807.8h7.8M334.5,803.9v7.8M318.1,853.2h7.8M322.0,849.3v7.8M333.5,825.4h7.8M337.4,821.5v7.8M337.9,838.6h7.8M341.8,834.7v7.8M340.8,846.6h7.8M344.7,842.7v7.8M343.6,840.0h7.8M347.5,836.1v7.8M346.7,834.2h7.8M350.6,830.3v7.8M351.1,830.5h7.8M355.0,826.6v7.8M354.0,825.4h7.8M357.9,821.5v7.8M358.4,811.5h7.8M362.3,807.6v7.8M361.3,828.3h7.8M365.2,824.4v7.8M376.0,818.1h7.8M379.9,814.2v7.8M373.0,844.5h7.8M376.9,840.6v7.8M364.2,854.7h7.8M368.1,850.8v7.8M368.6,853.2h7.8M372.5,849.3v7.8M371.6,856.2h7.8M375.5,852.3v7.8M366.4,863.5h7.8M370.3,859.6v7.8M380.4,782.9h7.8M384.3,779.0v7.8M378.9,793.9h7.8M382.8,790.0v7.8M384.7,791.7h7.8M388.6,787.8v7.8M389.1,797.6h7.8M393.0,793.7v7.8M392.1,799.0h7.8M396.0,795.1v7.8M396.1,805.0h7.8M400.0,801.1v7.8M403.8,803.4h7.8M407.7,799.5v7.8M408.2,794.6h7.8M412.1,790.7v7.8M393.5,814.4h7.8M397.4,810.5v7.8M399.4,819.5h7.8M403.3,815.6v7.8M395.0,823.9h7.8M398.9,820.0v7.8M414.1,825.4h7.8M418.0,821.5v7.8M412.6,794.5h7.8M416.5,790.6v7.8M420.9,802.8h7.8M424.8,798.9v7.8M415.1,825.2h7.8M419.0,821.3v7.8M418.4,821.1h7.8M422.3,817.2v7.8M425.1,783.7h7.8M429.0,779.8v7.8M426.7,766.3h7.8M430.6,762.4v7.8M429.1,760.0h7.8M433.0,756.1v7.8M431.7,757.2h7.8M435.6,753.3v7.8M434.1,756.0h7.8M438.0,752.1v7.8M436.7,754.7h7.8M440.6,750.8v7.8M440.8,745.5h7.8M444.7,741.6v7.8M443.3,777.1h7.8M447.2,773.2v7.8M445.0,816.9h7.8M448.9,813.0v7.8M448.3,802.0h7.8M452.2,798.1v7.8M450.8,785.4h7.8M454.7,781.5v7.8M453.3,768.0h7.8M457.2,764.1v7.8M455.7,760.5h7.8M459.6,756.6v7.8M457.4,744.7h7.8M461.3,740.8v7.8M459.9,734.7h7.8M463.8,730.8v7.8M463.2,736.4h7.8M467.1,732.5v7.8M465.6,731.0h7.8M469.5,727.1v7.8M468.2,724.8h7.8M472.1,720.9v7.8M470.6,745.0h7.8M474.5,741.1v7.8M473.2,758.0h7.8M477.1,754.1v7.8M476.5,761.3h7.8M480.4,757.4v7.8M479.1,752.0h7.8M483.0,748.1v7.8M481.5,746.4h7.8M485.4,742.5v7.8M484.8,744.7h7.8M488.7,740.8v7.8M487.1,742.0h7.8M491.0,738.1v7.8M489.8,741.4h7.8M493.7,737.5v7.8M491.4,759.6h7.8M495.3,755.7v7.8M496.4,784.5h7.8M500.3,780.6v7.8M498.9,777.9h7.8M502.8,774.0v7.8M501.1,765.0h7.8M505.0,761.1v7.8M503.1,755.5h7.8M507.0,751.6v7.8M506.1,760.0h7.8M510.0,756.1v7.8M509.1,763.0h7.8M513.0,759.1v7.8M513.0,751.3h7.8M516.9,747.4v7.8M516.3,739.7h7.8M520.2,735.8v7.8M519.7,724.8h7.8M523.6,720.9v7.8M522.1,730.0h7.8M526.0,726.1v7.8M524.6,728.1h7.8M528.5,724.2v7.8M528.0,723.1h7.8M531.9,719.2v7.8M530.1,732.0h7.8M534.0,728.1v7.8M534.6,738.9h7.8M538.5,735.0v7.8M532.1,754.7h7.8M536.0,750.8v7.8M537.1,750.0h7.8M541.0,746.1v7.8M541.1,752.0h7.8M545.0,748.1v7.8M546.2,754.7h7.8M550.1,750.8v7.8M548.6,748.0h7.8M552.5,744.1v7.8M551.2,738.9h7.8M555.1,735.0v7.8M553.6,752.0h7.8M557.5,748.1v7.8M556.2,762.1h7.8M560.1,758.2v7.8M558.6,760.0h7.8M562.5,756.1v7.8M561.2,757.2h7.8M565.1,753.3v7.8M566.1,735.6h7.8M570.0,731.7v7.8M563.7,718.1h7.8M567.6,714.2v7.8M568.1,710.0h7.8M572.0,706.1v7.8M570.3,693.2h7.8M574.2,689.3v7.8M644.9,730.8h7.8M648.8,726.9v7.8M657.4,726.9h7.8M661.3,723.0v7.8M654.2,734.7h7.8M658.1,730.8v7.8M652.7,744.1h7.8M656.6,740.2v7.8M648.0,751.1h7.8M651.9,747.2v7.8M650.1,748.0h7.8M654.0,744.1v7.8M659.7,760.5h7.8M663.6,756.6v7.8M662.0,776.9h7.8M665.9,773.0v7.8M664.1,772.0h7.8M668.0,768.1v7.8M666.7,769.1h7.8M670.6,765.2v7.8M669.1,783.1h7.8M673.0,779.2v7.8M673.0,766.7h7.8M676.9,762.8v7.8M675.1,770.0h7.8M679.0,766.1v7.8M677.7,761.3h7.8M681.6,757.4v7.8M680.1,772.0h7.8M684.0,768.1v7.8M682.4,778.4h7.8M686.3,774.5v7.8M685.5,768.3h7.8M689.4,764.4v7.8M688.6,750.3h7.8M692.5,746.4v7.8M690.2,737.8h7.8M694.1,733.9v7.8M693.3,730.8h7.8M697.2,726.9v7.8M695.1,728.0h7.8M699.0,724.1v7.8M698.0,721.4h7.8M701.9,717.5v7.8M699.5,731.6h7.8M703.4,727.7v7.8M702.1,735.0h7.8M706.0,731.1v7.8M705.1,737.0h7.8M709.0,733.1v7.8M707.4,739.4h7.8M711.3,735.5v7.8M711.3,738.6h7.8M715.2,734.7v7.8M714.1,741.0h7.8M718.0,737.1v7.8M716.7,744.1h7.8M720.6,740.2v7.8M719.9,740.2h7.8M723.8,736.3v7.8M721.4,759.7h7.8M725.3,755.8v7.8M723.6,765.0h7.8M727.5,761.1v7.8M726.1,769.1h7.8M730.0,765.2v7.8M728.6,766.0h7.8M732.5,762.1v7.8M731.1,762.0h7.8M735.0,758.1v7.8M733.9,759.7h7.8M737.8,755.8v7.8M737.0,747.2h7.8M740.9,743.3v7.8M739.1,745.0h7.8M743.0,741.1v7.8M741.7,742.5h7.8M745.6,738.6v7.8M744.1,741.0h7.8M748.0,737.1v7.8M746.4,740.9h7.8M750.3,737.0v7.8M749.1,738.0h7.8M753.0,734.1v7.8M751.1,726.9h7.8M755.0,723.0v7.8M752.7,736.3h7.8M756.6,732.4v7.8M755.1,737.0h7.8M759.0,733.1v7.8M757.4,739.4h7.8M761.3,735.5v7.8M760.5,744.1h7.8M764.4,740.2v7.8M763.6,756.6h7.8M767.5,752.7v7.8M766.7,774.5h7.8M770.6,770.6v7.8M769.6,770.0h7.8M773.5,766.1v7.8M773.0,765.2h7.8M776.9,761.3v7.8M998.4,864.9h7.8M1002.3,861.0v7.8M996.3,892.4h7.8M1000.2,888.5v7.8M993.3,903.6h7.8M997.2,899.7v7.8M968.8,907.2h7.8M972.7,903.3v7.8M971.1,905.0h7.8M975.0,901.1v7.8M975.0,907.2h7.8M978.9,903.3v7.8M972.9,911.2h7.8M976.8,907.3v7.8M964.8,917.9h7.8M968.7,914.0v7.8M973.9,915.8h7.8M977.8,911.9v7.8M976.1,918.0h7.8M980.0,914.1v7.8M979.0,923.0h7.8M982.9,919.1v7.8M991.2,930.6h7.8M995.1,926.7v7.8M981.1,937.7h7.8M985.0,933.8v7.8M986.1,938.7h7.8M990.0,934.8v7.8M985.1,945.9h7.8M989.0,942.0v7.8M987.1,946.4h7.8M991.0,942.5v7.8M989.1,935.0h7.8M993.0,931.1v7.8" stroke="#12127a" stroke-width="1.5" fill="none"/>
<path d="M125.2,910.0h7.6M129.0,906.2v7.6M126.3,907.3l5.4,5.4M131.7,907.3l-5.4,5.4M127.6,913.3h7.6M131.4,909.5v7.6M128.7,910.6l5.4,5.4M134.1,910.6l-5.4,5.4M130.0,916.2h7.6M133.8,912.4v7.6M131.1,913.5l5.4,5.4M136.5,913.5l-5.4,5.4M132.4,917.8h7.6M136.2,914.0v7.6M133.5,915.1l5.4,5.4M138.9,915.1l-5.4,5.4M134.8,918.8h7.6M138.6,915.0v7.6M135.9,916.1l5.4,5.4M141.3,916.1l-5.4,5.4M137.2,918.8h7.6M141.0,915.0v7.6M138.3,916.1l5.4,5.4M143.7,916.1l-5.4,5.4M139.6,918.8h7.6M143.4,915.0v7.6M140.7,916.1l5.4,5.4M146.1,916.1l-5.4,5.4M142.0,917.6h7.6M145.8,913.8v7.6M143.1,914.9l5.4,5.4M148.5,914.9l-5.4,5.4M144.4,914.0h7.6M148.2,910.2v7.6M145.5,911.3l5.4,5.4M150.9,911.3l-5.4,5.4M146.8,910.4h7.6M150.6,906.6v7.6M147.9,907.7l5.4,5.4M153.3,907.7l-5.4,5.4M149.2,902.2h7.6M153.0,898.4v7.6M150.3,899.5l5.4,5.4M155.7,899.5l-5.4,5.4M151.6,893.8h7.6M155.4,890.0v7.6M152.7,891.1l5.4,5.4M158.1,891.1l-5.4,5.4M154.0,891.4h7.6M157.8,887.6v7.6M155.1,888.7l5.4,5.4M160.5,888.7l-5.4,5.4M156.4,889.0h7.6M160.2,885.2v7.6M157.5,886.3l5.4,5.4M162.9,886.3l-5.4,5.4M158.8,886.6h7.6M162.6,882.8v7.6M159.9,883.9l5.4,5.4M165.3,883.9l-5.4,5.4M161.2,887.4h7.6M165.0,883.6v7.6M162.3,884.7l5.4,5.4M167.7,884.7l-5.4,5.4M163.6,889.3h7.6M167.4,885.5v7.6M164.7,886.6l5.4,5.4M170.1,886.6l-5.4,5.4M166.0,896.6h7.6M169.8,892.8v7.6M167.1,893.9l5.4,5.4M172.5,893.9l-5.4,5.4M168.4,903.8h7.6M172.2,900.0v7.6M169.5,901.1l5.4,5.4M174.9,901.1l-5.4,5.4M170.9,909.6h7.6M174.7,905.8v7.6M172.0,906.9l5.4,5.4M177.4,906.9l-5.4,5.4M173.3,906.6h7.6M177.1,902.8v7.6M174.4,903.9l5.4,5.4M179.8,903.9l-5.4,5.4M175.7,903.6h7.6M179.5,899.8v7.6M176.8,900.9l5.4,5.4M182.2,900.9l-5.4,5.4M178.1,898.9h7.6M181.9,895.1v7.6M179.2,896.2l5.4,5.4M184.6,896.2l-5.4,5.4M180.5,893.5h7.6M184.3,889.7v7.6M181.6,890.8l5.4,5.4M187.0,890.8l-5.4,5.4M182.9,890.8h7.6M186.7,887.0v7.6M184.0,888.1l5.4,5.4M189.4,888.1l-5.4,5.4M185.3,895.6h7.6M189.1,891.8v7.6M186.4,892.9l5.4,5.4M191.8,892.9l-5.4,5.4M187.7,902.0h7.6M191.5,898.2v7.6M188.8,899.3l5.4,5.4M194.2,899.3l-5.4,5.4M190.1,910.4h7.6M193.9,906.6v7.6M191.2,907.7l5.4,5.4M196.6,907.7l-5.4,5.4M192.5,918.7h7.6M196.3,914.9v7.6M193.6,916.0l5.4,5.4M199.0,916.0l-5.4,5.4M194.9,921.7h7.6M198.7,917.9v7.6M196.0,919.0l5.4,5.4M201.4,919.0l-5.4,5.4M197.3,924.7h7.6M201.1,920.9v7.6M198.4,922.0l5.4,5.4M203.8,922.0l-5.4,5.4M199.7,925.9h7.6M203.5,922.1v7.6M200.8,923.2l5.4,5.4M206.2,923.2l-5.4,5.4M202.1,925.5h7.6M205.9,921.7v7.6M203.2,922.8l5.4,5.4M208.6,922.8l-5.4,5.4M204.5,925.1h7.6M208.3,921.3v7.6M205.6,922.4l5.4,5.4M211.0,922.4l-5.4,5.4M206.9,924.7h7.6M210.7,920.9v7.6M208.0,922.0l5.4,5.4M213.4,922.0l-5.4,5.4M209.3,924.3h7.6M213.1,920.5v7.6M210.4,921.6l5.4,5.4M215.8,921.6l-5.4,5.4M211.7,923.9h7.6M215.5,920.1v7.6M212.8,921.2l5.4,5.4M218.2,921.2l-5.4,5.4M214.1,923.5h7.6M217.9,919.7v7.6M215.2,920.8l5.4,5.4M220.6,920.8l-5.4,5.4M216.5,923.1h7.6M220.3,919.3v7.6M217.6,920.4l5.4,5.4M223.0,920.4l-5.4,5.4M218.9,922.7h7.6M222.7,918.9v7.6M220.0,920.0l5.4,5.4M225.4,920.0l-5.4,5.4M221.3,922.3h7.6M225.1,918.5v7.6M222.4,919.6l5.4,5.4M227.8,919.6l-5.4,5.4M223.7,921.9h7.6M227.5,918.1v7.6M224.8,919.2l5.4,5.4M230.2,919.2l-5.4,5.4M226.1,920.8h7.6M229.9,917.0v7.6M227.2,918.1l5.4,5.4M232.6,918.1l-5.4,5.4M228.5,919.2h7.6M232.3,915.4v7.6M229.6,916.5l5.4,5.4M235.0,916.5l-5.4,5.4M230.9,917.6h7.6M234.7,913.8v7.6M232.0,914.9l5.4,5.4M237.4,914.9l-5.4,5.4M233.3,916.0h7.6M237.1,912.2v7.6M234.4,913.3l5.4,5.4M239.8,913.3l-5.4,5.4M235.7,907.0h7.6M239.5,903.2v7.6M236.8,904.3l5.4,5.4M242.2,904.3l-5.4,5.4M238.1,897.3h7.6M241.9,893.5v7.6M239.2,894.6l5.4,5.4M244.6,894.6l-5.4,5.4M240.5,887.7h7.6M244.3,883.9v7.6M241.6,885.0l5.4,5.4M247.0,885.0l-5.4,5.4M242.9,885.0h7.6M246.7,881.2v7.6M244.0,882.3l5.4,5.4M249.4,882.3l-5.4,5.4M245.3,883.2h7.6M249.1,879.4v7.6M246.4,880.5l5.4,5.4M251.8,880.5l-5.4,5.4M247.7,883.2h7.6M251.5,879.4v7.6M248.8,880.5l5.4,5.4M254.2,880.5l-5.4,5.4M250.1,885.6h7.6M253.9,881.8v7.6M251.2,882.9l5.4,5.4M256.6,882.9l-5.4,5.4M252.5,888.0h7.6M256.3,884.2v7.6M253.6,885.3l5.4,5.4M259.0,885.3l-5.4,5.4M254.9,888.9h7.6M258.7,885.1v7.6M256.0,886.2l5.4,5.4M261.4,886.2l-5.4,5.4M257.3,887.3h7.6M261.1,883.5v7.6M258.4,884.6l5.4,5.4M263.8,884.6l-5.4,5.4M259.8,885.7h7.6M263.6,881.9v7.6M260.9,883.0l5.4,5.4M266.3,883.0l-5.4,5.4M262.2,884.1h7.6M266.0,880.3v7.6M263.3,881.4l5.4,5.4M268.7,881.4l-5.4,5.4M264.6,883.0h7.6M268.4,879.2v7.6M265.7,880.3l5.4,5.4M271.1,880.3l-5.4,5.4M267.0,882.0h7.6M270.8,878.2v7.6M268.1,879.3l5.4,5.4M273.5,879.3l-5.4,5.4M269.4,881.0h7.6M273.2,877.2v7.6M270.5,878.3l5.4,5.4M275.9,878.3l-5.4,5.4M271.8,879.7h7.6M275.6,875.9v7.6M272.9,877.0l5.4,5.4M278.3,877.0l-5.4,5.4M274.2,878.0h7.6M278.0,874.2v7.6M275.3,875.3l5.4,5.4M280.7,875.3l-5.4,5.4M276.6,876.4h7.6M280.4,872.6v7.6M277.7,873.7l5.4,5.4M283.1,873.7l-5.4,5.4M279.0,874.8h7.6M282.8,871.0v7.6M280.1,872.1l5.4,5.4M285.5,872.1l-5.4,5.4M281.4,873.2h7.6M285.2,869.4v7.6M282.5,870.5l5.4,5.4M287.9,870.5l-5.4,5.4M283.8,871.6h7.6M287.6,867.8v7.6M284.9,868.9l5.4,5.4M290.3,868.9l-5.4,5.4M286.2,870.0h7.6M290.0,866.2v7.6M287.3,867.3l5.4,5.4M292.7,867.3l-5.4,5.4M288.6,869.1h7.6M292.4,865.3v7.6M289.7,866.4l5.4,5.4M295.1,866.4l-5.4,5.4M291.0,868.1h7.6M294.8,864.3v7.6M292.1,865.4l5.4,5.4M297.5,865.4l-5.4,5.4M293.4,867.2h7.6M297.2,863.4v7.6M294.5,864.5l5.4,5.4M299.9,864.5l-5.4,5.4M295.8,866.3h7.6M299.6,862.5v7.6M296.9,863.6l5.4,5.4M302.3,863.6l-5.4,5.4M298.2,865.3h7.6M302.0,861.5v7.6M299.3,862.6l5.4,5.4M304.7,862.6l-5.4,5.4M300.6,864.4h7.6M304.4,860.6v7.6M301.7,861.7l5.4,5.4M307.1,861.7l-5.4,5.4M303.0,863.5h7.6M306.8,859.7v7.6M304.1,860.8l5.4,5.4M309.5,860.8l-5.4,5.4M305.4,859.4h7.6M309.2,855.6v7.6M306.5,856.7l5.4,5.4M311.9,856.7l-5.4,5.4M307.8,852.3h7.6M311.6,848.5v7.6M308.9,849.6l5.4,5.4M314.3,849.6l-5.4,5.4M310.2,845.2h7.6M314.0,841.4v7.6M311.3,842.5l5.4,5.4M316.7,842.5l-5.4,5.4M312.6,838.1h7.6M316.4,834.3v7.6M313.7,835.4l5.4,5.4M319.1,835.4l-5.4,5.4M315.0,833.7h7.6M318.8,829.9v7.6M316.1,831.0l5.4,5.4M321.5,831.0l-5.4,5.4M317.4,830.1h7.6M321.2,826.3v7.6M318.5,827.4l5.4,5.4M323.9,827.4l-5.4,5.4M319.8,826.5h7.6M323.6,822.7v7.6M320.9,823.8l5.4,5.4M326.3,823.8l-5.4,5.4M322.2,822.9h7.6M326.0,819.1v7.6M323.3,820.2l5.4,5.4M328.7,820.2l-5.4,5.4M324.6,819.3h7.6M328.4,815.5v7.6M325.7,816.6l5.4,5.4M331.1,816.6l-5.4,5.4M327.0,820.3h7.6M330.8,816.5v7.6M328.1,817.6l5.4,5.4M333.5,817.6l-5.4,5.4M329.4,821.7h7.6M333.2,817.9v7.6M330.5,819.0l5.4,5.4M335.9,819.0l-5.4,5.4M331.8,823.1h7.6M335.6,819.3v7.6M332.9,820.4l5.4,5.4M338.3,820.4l-5.4,5.4M334.2,824.5h7.6M338.0,820.7v7.6M335.3,821.8l5.4,5.4M340.7,821.8l-5.4,5.4M336.6,828.1h7.6M340.4,824.3v7.6M337.7,825.4l5.4,5.4M343.1,825.4l-5.4,5.4M339.0,832.9h7.6M342.8,829.1v7.6M340.1,830.2l5.4,5.4M345.5,830.2l-5.4,5.4M341.4,837.6h7.6M345.2,833.8v7.6M342.5,834.9l5.4,5.4M347.9,834.9l-5.4,5.4M343.8,838.3h7.6M347.6,834.5v7.6M344.9,835.6l5.4,5.4M350.3,835.6l-5.4,5.4M346.2,836.3h7.6M350.0,832.5v7.6M347.3,833.6l5.4,5.4M352.7,833.6l-5.4,5.4M348.7,834.3h7.6M352.5,830.5v7.6M349.8,831.6l5.4,5.4M355.2,831.6l-5.4,5.4M351.1,832.3h7.6M354.9,828.5v7.6M352.2,829.6l5.4,5.4M357.6,829.6l-5.4,5.4M353.5,830.3h7.6M357.3,826.5v7.6M354.6,827.6l5.4,5.4M360.0,827.6l-5.4,5.4M355.9,828.3h7.6M359.7,824.5v7.6M357.0,825.6l5.4,5.4M362.4,825.6l-5.4,5.4M358.3,826.3h7.6M362.1,822.5v7.6M359.4,823.6l5.4,5.4M364.8,823.6l-5.4,5.4M360.7,827.2h7.6M364.5,823.4v7.6M361.8,824.5l5.4,5.4M367.2,824.5l-5.4,5.4M363.1,834.4h7.6M366.9,830.6v7.6M364.2,831.7l5.4,5.4M369.6,831.7l-5.4,5.4M365.5,841.5h7.6M369.3,837.7v7.6M366.6,838.8l5.4,5.4M372.0,838.8l-5.4,5.4M367.9,848.7h7.6M371.7,844.9v7.6M369.0,846.0l5.4,5.4M374.4,846.0l-5.4,5.4M370.3,847.4h7.6M374.1,843.6v7.6M371.4,844.7l5.4,5.4M376.8,844.7l-5.4,5.4M372.7,841.5h7.6M376.5,837.7v7.6M373.8,838.8l5.4,5.4M379.2,838.8l-5.4,5.4M375.1,835.7h7.6M378.9,831.9v7.6M376.2,833.0l5.4,5.4M381.6,833.0l-5.4,5.4M377.5,827.9h7.6M381.3,824.1v7.6M378.6,825.2l5.4,5.4M384.0,825.2l-5.4,5.4M379.9,818.4h7.6M383.7,814.6v7.6M381.0,815.7l5.4,5.4M386.4,815.7l-5.4,5.4M382.3,808.8h7.6M386.1,805.0v7.6M383.4,806.1l5.4,5.4M388.8,806.1l-5.4,5.4M384.7,804.9h7.6M388.5,801.1v7.6M385.8,802.2l5.4,5.4M391.2,802.2l-5.4,5.4M387.1,805.9h7.6M390.9,802.1v7.6M388.2,803.2l5.4,5.4M393.6,803.2l-5.4,5.4M389.5,806.8h7.6M393.3,803.0v7.6M390.6,804.1l5.4,5.4M396.0,804.1l-5.4,5.4M391.9,809.0h7.6M395.7,805.2v7.6M393.0,806.3l5.4,5.4M398.4,806.3l-5.4,5.4M394.3,812.3h7.6M398.1,808.5v7.6M395.4,809.6l5.4,5.4M400.8,809.6l-5.4,5.4M396.7,815.7h7.6M400.5,811.9v7.6M397.8,813.0l5.4,5.4M403.2,813.0l-5.4,5.4M399.1,816.0h7.6M402.9,812.2v7.6M400.2,813.3l5.4,5.4M405.6,813.3l-5.4,5.4M401.5,812.7h7.6M405.3,808.9v7.6M402.6,810.0l5.4,5.4M408.0,810.0l-5.4,5.4M403.9,809.3h7.6M407.7,805.5v7.6M405.0,806.6l5.4,5.4M410.4,806.6l-5.4,5.4M406.3,807.7h7.6M410.1,803.9v7.6M407.4,805.0l5.4,5.4M412.8,805.0l-5.4,5.4M408.7,808.7h7.6M412.5,804.9v7.6M409.8,806.0l5.4,5.4M415.2,806.0l-5.4,5.4M411.1,809.7h7.6M414.9,805.9v7.6M412.2,807.0l5.4,5.4M417.6,807.0l-5.4,5.4M413.5,807.6h7.6M417.3,803.8v7.6M414.6,804.9l5.4,5.4M420.0,804.9l-5.4,5.4M415.9,803.9h7.6M419.7,800.1v7.6M417.0,801.2l5.4,5.4M422.4,801.2l-5.4,5.4M418.3,800.3h7.6M422.1,796.5v7.6M419.4,797.6l5.4,5.4M424.8,797.6l-5.4,5.4M420.7,796.7h7.6M424.5,792.9v7.6M421.8,794.0l5.4,5.4M427.2,794.0l-5.4,5.4M423.1,793.1h7.6M426.9,789.3v7.6M424.2,790.4l5.4,5.4M429.6,790.4l-5.4,5.4M425.5,789.3h7.6M429.3,785.5v7.6M426.6,786.6l5.4,5.4M432.0,786.6l-5.4,5.4M427.9,785.5h7.6M431.7,781.7v7.6M429.0,782.8l5.4,5.4M434.4,782.8l-5.4,5.4M430.3,781.7h7.6M434.1,777.9v7.6M431.4,779.0l5.4,5.4M436.8,779.0l-5.4,5.4M432.7,777.9h7.6M436.5,774.1v7.6M433.8,775.2l5.4,5.4M439.2,775.2l-5.4,5.4M435.1,774.2h7.6M438.9,770.4v7.6M436.2,771.5l5.4,5.4M441.6,771.5l-5.4,5.4M437.6,772.3h7.6M441.4,768.5v7.6M438.7,769.6l5.4,5.4M444.1,769.6l-5.4,5.4M440.0,770.3h7.6M443.8,766.5v7.6M441.1,767.6l5.4,5.4M446.5,767.6l-5.4,5.4M442.4,768.4h7.6M446.2,764.6v7.6M443.5,765.7l5.4,5.4M448.9,765.7l-5.4,5.4M444.8,768.7h7.6M448.6,764.9v7.6M445.9,766.0l5.4,5.4M451.3,766.0l-5.4,5.4M447.2,770.7h7.6M451.0,766.9v7.6M448.3,768.0l5.4,5.4M453.7,768.0l-5.4,5.4M449.6,772.7h7.6M453.4,768.9v7.6M450.7,770.0l5.4,5.4M456.1,770.0l-5.4,5.4M452.0,774.7h7.6M455.8,770.9v7.6M453.1,772.0l5.4,5.4M458.5,772.0l-5.4,5.4M454.4,772.7h7.6M458.2,768.9v7.6M455.5,770.0l5.4,5.4M460.9,770.0l-5.4,5.4M456.8,764.9h7.6M460.6,761.1v7.6M457.9,762.2l5.4,5.4M463.3,762.2l-5.4,5.4M459.2,757.0h7.6M463.0,753.2v7.6M460.3,754.3l5.4,5.4M465.7,754.3l-5.4,5.4M461.6,752.7h7.6M465.4,748.9v7.6M462.7,750.0l5.4,5.4M468.1,750.0l-5.4,5.4M464.0,750.3h7.6M467.8,746.5v7.6M465.1,747.6l5.4,5.4M470.5,747.6l-5.4,5.4M466.4,747.9h7.6M470.2,744.1v7.6M467.5,745.2l5.4,5.4M472.9,745.2l-5.4,5.4M468.8,746.9h7.6M472.6,743.1v7.6M469.9,744.2l5.4,5.4M475.3,744.2l-5.4,5.4M471.2,751.2h7.6M475.0,747.4v7.6M472.3,748.5l5.4,5.4M477.7,748.5l-5.4,5.4M473.6,755.6h7.6M477.4,751.8v7.6M474.7,752.9l5.4,5.4M480.1,752.9l-5.4,5.4M476.0,759.9h7.6M479.8,756.1v7.6M477.1,757.2l5.4,5.4M482.5,757.2l-5.4,5.4M478.4,759.5h7.6M482.2,755.7v7.6M479.5,756.8l5.4,5.4M484.9,756.8l-5.4,5.4M480.8,757.6h7.6M484.6,753.8v7.6M481.9,754.9l5.4,5.4M487.3,754.9l-5.4,5.4M483.2,755.7h7.6M487.0,751.9v7.6M484.3,753.0l5.4,5.4M489.7,753.0l-5.4,5.4M485.6,755.5h7.6M489.4,751.7v7.6M486.7,752.8l5.4,5.4M492.1,752.8l-5.4,5.4M488.0,759.6h7.6M491.8,755.8v7.6M489.1,756.9l5.4,5.4M494.5,756.9l-5.4,5.4M490.4,763.8h7.6M494.2,760.0v7.6M491.5,761.1l5.4,5.4M496.9,761.1l-5.4,5.4M492.8,767.9h7.6M496.6,764.1v7.6M493.9,765.2l5.4,5.4M499.3,765.2l-5.4,5.4M495.2,772.0h7.6M499.0,768.2v7.6M496.3,769.3l5.4,5.4M501.7,769.3l-5.4,5.4M497.6,773.6h7.6M501.4,769.8v7.6M498.7,770.9l5.4,5.4M504.1,770.9l-5.4,5.4M500.0,772.5h7.6M503.8,768.7v7.6M501.1,769.8l5.4,5.4M506.5,769.8l-5.4,5.4M502.4,771.3h7.6M506.2,767.5v7.6M503.5,768.6l5.4,5.4M508.9,768.6l-5.4,5.4M504.8,770.1h7.6M508.6,766.3v7.6M505.9,767.4l5.4,5.4M511.3,767.4l-5.4,5.4M507.2,768.9h7.6M511.0,765.1v7.6M508.3,766.2l5.4,5.4M513.7,766.2l-5.4,5.4M509.6,767.7h7.6M513.4,763.9v7.6M510.7,765.0l5.4,5.4M516.1,765.0l-5.4,5.4M512.0,763.4h7.6M515.8,759.6v7.6M513.1,760.7l5.4,5.4M518.5,760.7l-5.4,5.4M514.4,758.9h7.6M518.2,755.1v7.6M515.5,756.2l5.4,5.4M520.9,756.2l-5.4,5.4M516.8,754.4h7.6M520.6,750.6v7.6M517.9,751.7l5.4,5.4M523.3,751.7l-5.4,5.4M519.2,749.9h7.6M523.0,746.1v7.6M520.3,747.2l5.4,5.4M525.7,747.2l-5.4,5.4M521.6,745.4h7.6M525.4,741.6v7.6M522.7,742.7l5.4,5.4M528.1,742.7l-5.4,5.4M524.0,743.0h7.6M527.8,739.2v7.6M525.1,740.3l5.4,5.4M530.5,740.3l-5.4,5.4M526.5,743.8h7.6M530.3,740.0v7.6M527.6,741.1l5.4,5.4M533.0,741.1l-5.4,5.4M528.9,744.6h7.6M532.7,740.8v7.6M530.0,741.9l5.4,5.4M535.4,741.9l-5.4,5.4M531.3,745.4h7.6M535.1,741.6v7.6M532.4,742.7l5.4,5.4M537.8,742.7l-5.4,5.4M533.7,747.0h7.6M537.5,743.2v7.6M534.8,744.3l5.4,5.4M540.2,744.3l-5.4,5.4M536.1,750.6h7.6M539.9,746.8v7.6M537.2,747.9l5.4,5.4M542.6,747.9l-5.4,5.4M538.5,754.2h7.6M542.3,750.4v7.6M539.6,751.5l5.4,5.4M545.0,751.5l-5.4,5.4M540.9,757.8h7.6M544.7,754.0v7.6M542.0,755.1l5.4,5.4M547.4,755.1l-5.4,5.4M543.3,761.0h7.6M547.1,757.2v7.6M544.4,758.3l5.4,5.4M549.8,758.3l-5.4,5.4M545.7,761.0h7.6M549.5,757.2v7.6M546.8,758.3l5.4,5.4M552.2,758.3l-5.4,5.4M548.1,761.0h7.6M551.9,757.2v7.6M549.2,758.3l5.4,5.4M554.6,758.3l-5.4,5.4M550.5,761.0h7.6M554.3,757.2v7.6M551.6,758.3l5.4,5.4M557.0,758.3l-5.4,5.4M552.9,761.0h7.6M556.7,757.2v7.6M554.0,758.3l5.4,5.4M559.4,758.3l-5.4,5.4M555.3,761.0h7.6M559.1,757.2v7.6M556.4,758.3l5.4,5.4M561.8,758.3l-5.4,5.4M557.7,759.1h7.6M561.5,755.3v7.6M558.8,756.4l5.4,5.4M564.2,756.4l-5.4,5.4M560.1,755.9h7.6M563.9,752.1v7.6M561.2,753.2l5.4,5.4M566.6,753.2l-5.4,5.4M562.5,752.7h7.6M566.3,748.9v7.6M563.6,750.0l5.4,5.4M569.0,750.0l-5.4,5.4M564.9,749.5h7.6M568.7,745.7v7.6M566.0,746.8l5.4,5.4M571.4,746.8l-5.4,5.4M567.3,743.1h7.6M571.1,739.3v7.6M568.4,740.4l5.4,5.4M573.8,740.4l-5.4,5.4M569.7,733.0h7.6M573.5,729.2v7.6M570.8,730.3l5.4,5.4M576.2,730.3l-5.4,5.4M572.1,707.4h7.6M575.9,703.6v7.6M573.2,704.7l5.4,5.4M578.6,704.7l-5.4,5.4M646.5,748.3h7.6M650.3,744.5v7.6M647.6,745.6l5.4,5.4M653.0,745.6l-5.4,5.4M648.9,749.5h7.6M652.7,745.7v7.6M650.0,746.8l5.4,5.4M655.4,746.8l-5.4,5.4M651.3,750.7h7.6M655.1,746.9v7.6M652.4,748.0l5.4,5.4M657.8,748.0l-5.4,5.4M653.7,752.8h7.6M657.5,749.0v7.6M654.8,750.1l5.4,5.4M660.2,750.1l-5.4,5.4M656.1,756.4h7.6M659.9,752.6v7.6M657.2,753.7l5.4,5.4M662.6,753.7l-5.4,5.4M658.5,760.1h7.6M662.3,756.3v7.6M659.6,757.4l5.4,5.4M665.0,757.4l-5.4,5.4M660.9,763.7h7.6M664.7,759.9v7.6M662.0,761.0l5.4,5.4M667.4,761.0l-5.4,5.4M663.3,766.5h7.6M667.1,762.7v7.6M664.4,763.8l5.4,5.4M669.8,763.8l-5.4,5.4M665.7,768.4h7.6M669.5,764.6v7.6M666.8,765.7l5.4,5.4M672.2,765.7l-5.4,5.4M668.1,770.3h7.6M671.9,766.5v7.6M669.2,767.6l5.4,5.4M674.6,767.6l-5.4,5.4M670.5,771.6h7.6M674.3,767.8v7.6M671.6,768.9l5.4,5.4M677.0,768.9l-5.4,5.4M672.9,770.6h7.6M676.7,766.8v7.6M674.0,767.9l5.4,5.4M679.4,767.9l-5.4,5.4M675.3,769.6h7.6M679.1,765.8v7.6M676.4,766.9l5.4,5.4M681.8,766.9l-5.4,5.4M677.7,768.6h7.6M681.5,764.8v7.6M678.8,765.9l5.4,5.4M684.2,765.9l-5.4,5.4M680.1,766.3h7.6M683.9,762.5v7.6M681.2,763.6l5.4,5.4M686.6,763.6l-5.4,5.4M682.5,763.9h7.6M686.3,760.1v7.6M683.6,761.2l5.4,5.4M689.0,761.2l-5.4,5.4M684.9,761.5h7.6M688.7,757.7v7.6M686.0,758.8l5.4,5.4M691.4,758.8l-5.4,5.4M687.3,757.3h7.6M691.1,753.5v7.6M688.4,754.6l5.4,5.4M693.8,754.6l-5.4,5.4M689.7,752.5h7.6M693.5,748.7v7.6M690.8,749.8l5.4,5.4M696.2,749.8l-5.4,5.4M692.2,747.7h7.6M696.0,743.9v7.6M693.3,745.0l5.4,5.4M698.7,745.0l-5.4,5.4M694.6,743.5h7.6M698.4,739.7v7.6M695.7,740.8l5.4,5.4M701.1,740.8l-5.4,5.4M697.0,739.8h7.6M700.8,736.0v7.6M698.1,737.1l5.4,5.4M703.5,737.1l-5.4,5.4M699.4,736.2h7.6M703.2,732.4v7.6M700.5,733.5l5.4,5.4M705.9,733.5l-5.4,5.4M701.8,737.2h7.6M705.6,733.4v7.6M702.9,734.5l5.4,5.4M708.3,734.5l-5.4,5.4M704.2,738.9h7.6M708.0,735.1v7.6M705.3,736.2l5.4,5.4M710.7,736.2l-5.4,5.4M706.6,740.5h7.6M710.4,736.7v7.6M707.7,737.8l5.4,5.4M713.1,737.8l-5.4,5.4M709.0,742.1h7.6M712.8,738.3v7.6M710.1,739.4l5.4,5.4M715.5,739.4l-5.4,5.4M711.4,743.5h7.6M715.2,739.7v7.6M712.5,740.8l5.4,5.4M717.9,740.8l-5.4,5.4M713.8,745.0h7.6M717.6,741.2v7.6M714.9,742.3l5.4,5.4M720.3,742.3l-5.4,5.4M716.2,746.4h7.6M720.0,742.6v7.6M717.3,743.7l5.4,5.4M722.7,743.7l-5.4,5.4M718.6,749.8h7.6M722.4,746.0v7.6M719.7,747.1l5.4,5.4M725.1,747.1l-5.4,5.4M721.0,753.7h7.6M724.8,749.9v7.6M722.1,751.0l5.4,5.4M727.5,751.0l-5.4,5.4M723.4,757.7h7.6M727.2,753.9v7.6M724.5,755.0l5.4,5.4M729.9,755.0l-5.4,5.4M725.8,761.7h7.6M729.6,757.9v7.6M726.9,759.0l5.4,5.4M732.3,759.0l-5.4,5.4M728.2,761.9h7.6M732.0,758.1v7.6M729.3,759.2l5.4,5.4M734.7,759.2l-5.4,5.4M730.6,761.3h7.6M734.4,757.5v7.6M731.7,758.6l5.4,5.4M737.1,758.6l-5.4,5.4M733.0,760.2h7.6M736.8,756.4v7.6M734.1,757.5l5.4,5.4M739.5,757.5l-5.4,5.4M735.4,757.3h7.6M739.2,753.5v7.6M736.5,754.6l5.4,5.4M741.9,754.6l-5.4,5.4M737.8,754.4h7.6M741.6,750.6v7.6M738.9,751.7l5.4,5.4M744.3,751.7l-5.4,5.4M740.2,751.5h7.6M744.0,747.7v7.6M741.3,748.8l5.4,5.4M746.7,748.8l-5.4,5.4M742.6,750.4h7.6M746.4,746.6v7.6M743.7,747.7l5.4,5.4M749.1,747.7l-5.4,5.4M745.0,749.4h7.6M748.8,745.6v7.6M746.1,746.7l5.4,5.4M751.5,746.7l-5.4,5.4M747.4,748.4h7.6M751.2,744.6v7.6M748.5,745.7l5.4,5.4M753.9,745.7l-5.4,5.4M749.8,747.4h7.6M753.6,743.6v7.6M750.9,744.7l5.4,5.4M756.3,744.7l-5.4,5.4M752.2,746.8h7.6M756.0,743.0v7.6M753.3,744.1l5.4,5.4M758.7,744.1l-5.4,5.4M754.6,746.8h7.6M758.4,743.0v7.6M755.7,744.1l5.4,5.4M761.1,744.1l-5.4,5.4M757.0,746.8h7.6M760.8,743.0v7.6M758.1,744.1l5.4,5.4M763.5,744.1l-5.4,5.4M759.4,749.2h7.6M763.2,745.4v7.6M760.5,746.5l5.4,5.4M765.9,746.5l-5.4,5.4M761.8,752.2h7.6M765.6,748.4v7.6M762.9,749.5l5.4,5.4M768.3,749.5l-5.4,5.4M764.2,755.4h7.6M768.0,751.6v7.6M765.3,752.7l5.4,5.4M770.7,752.7l-5.4,5.4M766.6,759.2h7.6M770.4,755.4v7.6M767.7,756.5l5.4,5.4M773.1,756.5l-5.4,5.4M769.0,762.9h7.6M772.8,759.1v7.6M770.1,760.2l5.4,5.4M775.5,760.2l-5.4,5.4M771.4,766.7h7.6M775.2,762.9v7.6M772.5,764.0l5.4,5.4M777.9,764.0l-5.4,5.4M962.2,897.0h7.6M966.0,893.2v7.6M963.3,894.3l5.4,5.4M968.7,894.3l-5.4,5.4M964.6,895.4h7.6M968.4,891.6v7.6M965.7,892.7l5.4,5.4M971.1,892.7l-5.4,5.4M967.0,895.0h7.6M970.8,891.2v7.6M968.1,892.3l5.4,5.4M973.5,892.3l-5.4,5.4M969.4,895.2h7.6M973.2,891.4v7.6M970.5,892.5l5.4,5.4M975.9,892.5l-5.4,5.4M971.8,895.9h7.6M975.6,892.1v7.6M972.9,893.2l5.4,5.4M978.3,893.2l-5.4,5.4M974.2,896.7h7.6M978.0,892.9v7.6M975.3,894.0l5.4,5.4M980.7,894.0l-5.4,5.4M976.6,898.6h7.6M980.4,894.8v7.6M977.7,895.9l5.4,5.4M983.1,895.9l-5.4,5.4M979.0,901.0h7.6M982.8,897.2v7.6M980.1,898.3l5.4,5.4M985.5,898.3l-5.4,5.4M981.4,906.7h7.6M985.2,902.9v7.6M982.5,904.0l5.4,5.4M987.9,904.0l-5.4,5.4M983.8,912.6h7.6M987.6,908.8v7.6M984.9,909.9l5.4,5.4M990.3,909.9l-5.4,5.4M986.2,918.9h7.6M990.0,915.1v7.6M987.3,916.2l5.4,5.4M992.7,916.2l-5.4,5.4M988.6,919.9h7.6M992.4,916.1v7.6M989.7,917.2l5.4,5.4M995.1,917.2l-5.4,5.4M991.0,917.3h7.6M994.8,913.5v7.6M992.1,914.6l5.4,5.4M997.5,914.6l-5.4,5.4M993.4,914.9h7.6M997.2,911.1v7.6M994.5,912.2l5.4,5.4M999.9,912.2l-5.4,5.4M995.8,912.7h7.6M999.6,908.9v7.6M996.9,910.0l5.4,5.4M1002.3,910.0l-5.4,5.4M998.2,908.8h7.6M1002.0,905.0v7.6M999.3,906.1l5.4,5.4M1004.7,906.1l-5.4,5.4" stroke="#8cc0a0" stroke-width="0.8" fill="none" opacity="0.3"/>
<path d="M129.0,908.0l4,7.2h-8zM131.4,911.3l4,7.2h-8zM133.8,914.2l4,7.2h-8zM136.2,915.8l4,7.2h-8zM138.6,916.8l4,7.2h-8zM141.0,916.8l4,7.2h-8zM143.4,916.8l4,7.2h-8zM145.8,915.6l4,7.2h-8zM148.2,912.0l4,7.2h-8zM150.6,908.4l4,7.2h-8zM153.0,900.2l4,7.2h-8zM155.4,891.8l4,7.2h-8zM157.8,889.4l4,7.2h-8zM160.2,887.0l4,7.2h-8zM162.6,884.6l4,7.2h-8zM165.0,885.4l4,7.2h-8zM167.4,887.3l4,7.2h-8zM169.8,894.6l4,7.2h-8zM172.2,901.8l4,7.2h-8zM174.7,907.6l4,7.2h-8zM177.1,904.6l4,7.2h-8zM179.5,901.6l4,7.2h-8zM181.9,896.9l4,7.2h-8zM184.3,891.5l4,7.2h-8zM186.7,888.8l4,7.2h-8zM189.1,893.6l4,7.2h-8zM191.5,900.0l4,7.2h-8zM193.9,908.4l4,7.2h-8zM196.3,916.7l4,7.2h-8zM198.7,919.7l4,7.2h-8zM201.1,922.7l4,7.2h-8zM203.5,923.9l4,7.2h-8zM205.9,923.5l4,7.2h-8zM208.3,923.1l4,7.2h-8zM210.7,922.7l4,7.2h-8zM213.1,922.3l4,7.2h-8zM215.5,921.9l4,7.2h-8zM217.9,921.5l4,7.2h-8zM220.3,921.1l4,7.2h-8zM222.7,920.7l4,7.2h-8zM225.1,920.3l4,7.2h-8zM227.5,919.9l4,7.2h-8zM229.9,918.8l4,7.2h-8zM232.3,917.2l4,7.2h-8zM234.7,915.6l4,7.2h-8zM237.1,914.0l4,7.2h-8zM239.5,905.0l4,7.2h-8zM241.9,895.3l4,7.2h-8zM244.3,885.7l4,7.2h-8zM246.7,883.0l4,7.2h-8zM249.1,881.2l4,7.2h-8zM251.5,881.2l4,7.2h-8zM253.9,883.6l4,7.2h-8zM256.3,886.0l4,7.2h-8zM258.7,886.9l4,7.2h-8zM261.1,885.3l4,7.2h-8zM263.6,883.7l4,7.2h-8zM266.0,882.1l4,7.2h-8zM268.4,881.0l4,7.2h-8zM270.8,880.0l4,7.2h-8zM273.2,879.0l4,7.2h-8zM275.6,877.7l4,7.2h-8zM278.0,876.0l4,7.2h-8zM280.4,874.4l4,7.2h-8zM282.8,872.8l4,7.2h-8zM285.2,871.2l4,7.2h-8zM287.6,869.6l4,7.2h-8zM290.0,868.0l4,7.2h-8zM292.4,867.1l4,7.2h-8zM294.8,866.1l4,7.2h-8zM297.2,865.2l4,7.2h-8zM299.6,864.3l4,7.2h-8zM302.0,863.3l4,7.2h-8zM304.4,862.4l4,7.2h-8zM306.8,861.5l4,7.2h-8zM309.2,857.4l4,7.2h-8zM311.6,850.3l4,7.2h-8zM314.0,843.2l4,7.2h-8zM316.4,836.1l4,7.2h-8zM318.8,831.7l4,7.2h-8zM321.2,828.1l4,7.2h-8zM323.6,824.5l4,7.2h-8zM326.0,820.9l4,7.2h-8zM328.4,817.3l4,7.2h-8zM330.8,818.3l4,7.2h-8zM333.2,819.7l4,7.2h-8zM335.6,821.1l4,7.2h-8zM338.0,822.5l4,7.2h-8zM340.4,826.1l4,7.2h-8zM342.8,830.9l4,7.2h-8zM345.2,835.6l4,7.2h-8zM347.6,836.3l4,7.2h-8zM350.0,834.3l4,7.2h-8zM352.5,832.3l4,7.2h-8zM354.9,830.3l4,7.2h-8zM357.3,828.3l4,7.2h-8zM359.7,826.3l4,7.2h-8zM362.1,824.3l4,7.2h-8zM364.5,825.2l4,7.2h-8zM366.9,832.4l4,7.2h-8zM369.3,839.5l4,7.2h-8zM371.7,846.7l4,7.2h-8zM374.1,845.4l4,7.2h-8zM376.5,839.5l4,7.2h-8zM378.9,833.7l4,7.2h-8zM381.3,825.9l4,7.2h-8zM383.7,816.4l4,7.2h-8zM386.1,806.8l4,7.2h-8zM388.5,802.9l4,7.2h-8zM390.9,803.9l4,7.2h-8zM393.3,804.8l4,7.2h-8zM395.7,807.0l4,7.2h-8zM398.1,810.3l4,7.2h-8zM400.5,813.7l4,7.2h-8zM402.9,814.0l4,7.2h-8zM405.3,810.7l4,7.2h-8zM407.7,807.3l4,7.2h-8zM410.1,805.7l4,7.2h-8zM412.5,806.7l4,7.2h-8zM414.9,807.7l4,7.2h-8zM417.3,805.6l4,7.2h-8zM419.7,801.9l4,7.2h-8zM422.1,798.3l4,7.2h-8zM424.5,794.7l4,7.2h-8zM426.9,791.1l4,7.2h-8zM429.3,787.3l4,7.2h-8zM431.7,783.5l4,7.2h-8zM434.1,779.7l4,7.2h-8zM436.5,775.9l4,7.2h-8zM438.9,772.2l4,7.2h-8zM441.4,770.3l4,7.2h-8zM443.8,768.3l4,7.2h-8zM446.2,766.4l4,7.2h-8zM448.6,766.7l4,7.2h-8zM451.0,768.7l4,7.2h-8zM453.4,770.7l4,7.2h-8zM455.8,772.7l4,7.2h-8zM458.2,770.7l4,7.2h-8zM460.6,762.9l4,7.2h-8zM463.0,755.0l4,7.2h-8zM465.4,750.7l4,7.2h-8zM467.8,748.3l4,7.2h-8zM470.2,745.9l4,7.2h-8zM472.6,744.9l4,7.2h-8zM475.0,749.2l4,7.2h-8zM477.4,753.6l4,7.2h-8zM479.8,757.9l4,7.2h-8zM482.2,757.5l4,7.2h-8zM484.6,755.6l4,7.2h-8zM487.0,753.7l4,7.2h-8zM489.4,753.5l4,7.2h-8zM491.8,757.6l4,7.2h-8zM494.2,761.8l4,7.2h-8zM496.6,765.9l4,7.2h-8zM499.0,770.0l4,7.2h-8zM501.4,771.6l4,7.2h-8zM503.8,770.5l4,7.2h-8zM506.2,769.3l4,7.2h-8zM508.6,768.1l4,7.2h-8zM511.0,766.9l4,7.2h-8zM513.4,765.7l4,7.2h-8zM515.8,761.4l4,7.2h-8zM518.2,756.9l4,7.2h-8zM520.6,752.4l4,7.2h-8zM523.0,747.9l4,7.2h-8zM525.4,743.4l4,7.2h-8zM527.8,741.0l4,7.2h-8zM530.3,741.8l4,7.2h-8zM532.7,742.6l4,7.2h-8zM535.1,743.4l4,7.2h-8zM537.5,745.0l4,7.2h-8zM539.9,748.6l4,7.2h-8zM542.3,752.2l4,7.2h-8zM544.7,755.8l4,7.2h-8zM547.1,759.0l4,7.2h-8zM549.5,759.0l4,7.2h-8zM551.9,759.0l4,7.2h-8zM554.3,759.0l4,7.2h-8zM556.7,759.0l4,7.2h-8zM559.1,759.0l4,7.2h-8zM561.5,757.1l4,7.2h-8zM563.9,753.9l4,7.2h-8zM566.3,750.7l4,7.2h-8zM568.7,747.5l4,7.2h-8zM571.1,741.1l4,7.2h-8zM573.5,731.0l4,7.2h-8zM575.9,705.4l4,7.2h-8zM650.3,746.3l4,7.2h-8zM652.7,747.5l4,7.2h-8zM655.1,748.7l4,7.2h-8zM657.5,750.8l4,7.2h-8zM659.9,754.4l4,7.2h-8zM662.3,758.1l4,7.2h-8zM664.7,761.7l4,7.2h-8zM667.1,764.5l4,7.2h-8zM669.5,766.4l4,7.2h-8zM671.9,768.3l4,7.2h-8zM674.3,769.6l4,7.2h-8zM676.7,768.6l4,7.2h-8zM679.1,767.6l4,7.2h-8zM681.5,766.6l4,7.2h-8zM683.9,764.3l4,7.2h-8zM686.3,761.9l4,7.2h-8zM688.7,759.5l4,7.2h-8zM691.1,755.3l4,7.2h-8zM693.5,750.5l4,7.2h-8zM696.0,745.7l4,7.2h-8zM698.4,741.5l4,7.2h-8zM700.8,737.8l4,7.2h-8zM703.2,734.2l4,7.2h-8zM705.6,735.2l4,7.2h-8zM708.0,736.9l4,7.2h-8zM710.4,738.5l4,7.2h-8zM712.8,740.1l4,7.2h-8zM715.2,741.5l4,7.2h-8zM717.6,743.0l4,7.2h-8zM720.0,744.4l4,7.2h-8zM722.4,747.8l4,7.2h-8zM724.8,751.7l4,7.2h-8zM727.2,755.7l4,7.2h-8zM729.6,759.7l4,7.2h-8zM732.0,759.9l4,7.2h-8zM734.4,759.3l4,7.2h-8zM736.8,758.2l4,7.2h-8zM739.2,755.3l4,7.2h-8zM741.6,752.4l4,7.2h-8zM744.0,749.5l4,7.2h-8zM746.4,748.4l4,7.2h-8zM748.8,747.4l4,7.2h-8zM751.2,746.4l4,7.2h-8zM753.6,745.4l4,7.2h-8zM756.0,744.8l4,7.2h-8zM758.4,744.8l4,7.2h-8zM760.8,744.8l4,7.2h-8zM763.2,747.2l4,7.2h-8zM765.6,750.2l4,7.2h-8zM768.0,753.4l4,7.2h-8zM770.4,757.2l4,7.2h-8zM772.8,760.9l4,7.2h-8zM775.2,764.7l4,7.2h-8zM966.0,895.0l4,7.2h-8zM968.4,893.4l4,7.2h-8zM970.8,893.0l4,7.2h-8zM973.2,893.2l4,7.2h-8zM975.6,893.9l4,7.2h-8zM978.0,894.7l4,7.2h-8zM980.4,896.6l4,7.2h-8zM982.8,899.0l4,7.2h-8zM985.2,904.7l4,7.2h-8zM987.6,910.6l4,7.2h-8zM990.0,916.9l4,7.2h-8zM992.4,917.9l4,7.2h-8zM994.8,915.3l4,7.2h-8zM997.2,912.9l4,7.2h-8zM999.6,910.7l4,7.2h-8zM1002.0,906.8l4,7.2h-8z" stroke="#ee9c9c" stroke-width="0.9" fill="none" opacity="0.6"/>
</svg></body></html>
